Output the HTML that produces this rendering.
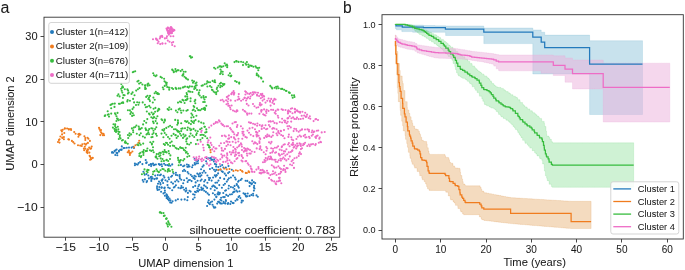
<!DOCTYPE html>
<html><head><meta charset="utf-8"><style>
html,body{margin:0;padding:0;background:#fff;}
svg{display:block;font-family:"Liberation Sans", sans-serif;will-change:transform;}
</style></head><body>
<svg width="685" height="270" viewBox="0 0 685 270">
<rect width="685" height="270" fill="#fff"/>
<g fill="rgb(35,122,188)"><circle cx="112.2" cy="152.0" r="1.05"/><circle cx="114.5" cy="151.1" r="1.05"/><circle cx="115.5" cy="150.4" r="1.05"/><circle cx="116.6" cy="149.5" r="1.05"/><circle cx="118.9" cy="150.7" r="1.05"/><circle cx="118.9" cy="151.6" r="1.05"/><circle cx="117.3" cy="153.1" r="1.05"/><circle cx="116.5" cy="152.9" r="1.05"/><circle cx="115.3" cy="155.0" r="1.05"/><circle cx="117.3" cy="155.3" r="1.05"/><circle cx="113.4" cy="152.8" r="1.05"/><circle cx="123.5" cy="148.1" r="1.05"/><circle cx="124.7" cy="148.0" r="1.05"/><circle cx="126.8" cy="147.8" r="1.05"/><circle cx="129.0" cy="147.6" r="1.05"/><circle cx="131.6" cy="147.6" r="1.05"/><circle cx="133.2" cy="146.8" r="1.05"/><circle cx="134.0" cy="147.9" r="1.05"/><circle cx="136.3" cy="164.2" r="1.05"/><circle cx="137.7" cy="164.6" r="1.05"/><circle cx="138.6" cy="163.1" r="1.05"/><circle cx="140.1" cy="162.1" r="1.05"/><circle cx="142.4" cy="164.1" r="1.05"/><circle cx="145.7" cy="160.1" r="1.05"/><circle cx="146.7" cy="162.4" r="1.05"/><circle cx="146.2" cy="163.1" r="1.05"/><circle cx="149.0" cy="165.0" r="1.05"/><circle cx="150.7" cy="164.1" r="1.05"/><circle cx="151.1" cy="166.1" r="1.05"/><circle cx="154.5" cy="164.8" r="1.05"/><circle cx="155.9" cy="164.5" r="1.05"/><circle cx="159.6" cy="164.6" r="1.05"/><circle cx="160.0" cy="164.7" r="1.05"/><circle cx="161.6" cy="164.2" r="1.05"/><circle cx="164.1" cy="163.8" r="1.05"/><circle cx="165.4" cy="165.0" r="1.05"/><circle cx="167.3" cy="165.1" r="1.05"/><circle cx="168.8" cy="165.6" r="1.05"/><circle cx="170.4" cy="165.8" r="1.05"/><circle cx="172.2" cy="164.4" r="1.05"/><circle cx="142.7" cy="180.0" r="1.05"/><circle cx="143.4" cy="181.7" r="1.05"/><circle cx="144.9" cy="179.4" r="1.05"/><circle cx="146.6" cy="182.1" r="1.05"/><circle cx="147.1" cy="181.0" r="1.05"/><circle cx="148.9" cy="178.4" r="1.05"/><circle cx="151.3" cy="180.9" r="1.05"/><circle cx="143.4" cy="171.7" r="1.05"/><circle cx="144.7" cy="174.8" r="1.05"/><circle cx="146.5" cy="174.1" r="1.05"/><circle cx="148.3" cy="175.5" r="1.05"/><circle cx="150.7" cy="177.1" r="1.05"/><circle cx="152.6" cy="178.4" r="1.05"/><circle cx="154.4" cy="179.1" r="1.05"/><circle cx="157.1" cy="178.4" r="1.05"/><circle cx="157.8" cy="175.1" r="1.05"/><circle cx="160.0" cy="175.3" r="1.05"/><circle cx="160.9" cy="174.6" r="1.05"/><circle cx="163.5" cy="175.7" r="1.05"/><circle cx="164.4" cy="177.4" r="1.05"/><circle cx="165.5" cy="180.2" r="1.05"/><circle cx="167.4" cy="181.4" r="1.05"/><circle cx="169.0" cy="179.2" r="1.05"/><circle cx="171.1" cy="176.8" r="1.05"/><circle cx="172.1" cy="175.8" r="1.05"/><circle cx="173.6" cy="173.5" r="1.05"/><circle cx="175.9" cy="172.8" r="1.05"/><circle cx="177.5" cy="175.2" r="1.05"/><circle cx="179.6" cy="176.7" r="1.05"/><circle cx="179.9" cy="178.4" r="1.05"/><circle cx="181.3" cy="179.7" r="1.05"/><circle cx="180.9" cy="164.9" r="1.05"/><circle cx="183.1" cy="166.2" r="1.05"/><circle cx="184.4" cy="165.6" r="1.05"/><circle cx="186.9" cy="164.5" r="1.05"/><circle cx="187.3" cy="166.8" r="1.05"/><circle cx="188.1" cy="166.8" r="1.05"/><circle cx="189.5" cy="166.5" r="1.05"/><circle cx="192.1" cy="167.3" r="1.05"/><circle cx="192.8" cy="165.3" r="1.05"/><circle cx="195.0" cy="164.6" r="1.05"/><circle cx="196.4" cy="163.4" r="1.05"/><circle cx="197.7" cy="161.1" r="1.05"/><circle cx="196.2" cy="160.8" r="1.05"/><circle cx="194.6" cy="159.0" r="1.05"/><circle cx="184.2" cy="169.7" r="1.05"/><circle cx="185.2" cy="171.0" r="1.05"/><circle cx="187.6" cy="172.0" r="1.05"/><circle cx="188.5" cy="173.5" r="1.05"/><circle cx="190.7" cy="174.8" r="1.05"/><circle cx="192.0" cy="176.2" r="1.05"/><circle cx="193.5" cy="178.1" r="1.05"/><circle cx="194.5" cy="175.7" r="1.05"/><circle cx="197.3" cy="173.6" r="1.05"/><circle cx="198.6" cy="174.6" r="1.05"/><circle cx="200.2" cy="176.4" r="1.05"/><circle cx="201.4" cy="175.2" r="1.05"/><circle cx="202.5" cy="172.7" r="1.05"/><circle cx="204.0" cy="170.9" r="1.05"/><circle cx="205.5" cy="172.7" r="1.05"/><circle cx="207.4" cy="175.5" r="1.05"/><circle cx="208.8" cy="177.7" r="1.05"/><circle cx="210.0" cy="178.1" r="1.05"/><circle cx="211.6" cy="180.6" r="1.05"/><circle cx="213.1" cy="177.5" r="1.05"/><circle cx="215.7" cy="176.6" r="1.05"/><circle cx="216.6" cy="175.3" r="1.05"/><circle cx="218.1" cy="173.4" r="1.05"/><circle cx="209.9" cy="169.0" r="1.05"/><circle cx="212.3" cy="168.1" r="1.05"/><circle cx="214.0" cy="169.7" r="1.05"/><circle cx="215.2" cy="171.3" r="1.05"/><circle cx="216.2" cy="169.9" r="1.05"/><circle cx="220.4" cy="169.6" r="1.05"/><circle cx="221.8" cy="171.3" r="1.05"/><circle cx="222.8" cy="171.9" r="1.05"/><circle cx="224.7" cy="173.6" r="1.05"/><circle cx="226.0" cy="175.4" r="1.05"/><circle cx="228.1" cy="173.1" r="1.05"/><circle cx="229.3" cy="172.0" r="1.05"/><circle cx="231.8" cy="169.8" r="1.05"/><circle cx="225.8" cy="167.6" r="1.05"/><circle cx="228.5" cy="166.1" r="1.05"/><circle cx="233.1" cy="175.6" r="1.05"/><circle cx="230.9" cy="177.5" r="1.05"/><circle cx="228.9" cy="178.2" r="1.05"/><circle cx="227.9" cy="179.7" r="1.05"/><circle cx="226.8" cy="181.6" r="1.05"/><circle cx="224.2" cy="178.9" r="1.05"/><circle cx="220.1" cy="177.9" r="1.05"/><circle cx="218.5" cy="180.6" r="1.05"/><circle cx="217.1" cy="182.6" r="1.05"/><circle cx="215.4" cy="182.7" r="1.05"/><circle cx="200.6" cy="180.7" r="1.05"/><circle cx="201.6" cy="179.5" r="1.05"/><circle cx="204.2" cy="181.5" r="1.05"/><circle cx="205.2" cy="180.1" r="1.05"/><circle cx="207.4" cy="182.8" r="1.05"/><circle cx="197.6" cy="180.7" r="1.05"/><circle cx="195.7" cy="182.4" r="1.05"/><circle cx="194.8" cy="179.0" r="1.05"/><circle cx="186.8" cy="178.2" r="1.05"/><circle cx="184.1" cy="180.3" r="1.05"/><circle cx="183.2" cy="183.3" r="1.05"/><circle cx="187.6" cy="182.0" r="1.05"/><circle cx="189.9" cy="180.0" r="1.05"/><circle cx="191.6" cy="181.1" r="1.05"/><circle cx="178.4" cy="181.5" r="1.05"/><circle cx="176.9" cy="180.0" r="1.05"/><circle cx="175.2" cy="181.5" r="1.05"/><circle cx="173.0" cy="183.6" r="1.05"/><circle cx="158.0" cy="183.7" r="1.05"/><circle cx="159.0" cy="181.6" r="1.05"/><circle cx="160.3" cy="183.0" r="1.05"/><circle cx="162.6" cy="179.3" r="1.05"/><circle cx="163.1" cy="183.0" r="1.05"/><circle cx="208.8" cy="158.2" r="1.05"/><circle cx="210.3" cy="158.3" r="1.05"/><circle cx="212.3" cy="159.7" r="1.05"/><circle cx="213.9" cy="161.4" r="1.05"/><circle cx="214.9" cy="163.9" r="1.05"/><circle cx="216.2" cy="164.6" r="1.05"/><circle cx="218.3" cy="167.0" r="1.05"/><circle cx="220.4" cy="166.2" r="1.05"/><circle cx="222.2" cy="165.1" r="1.05"/><circle cx="206.1" cy="161.3" r="1.05"/><circle cx="206.7" cy="163.5" r="1.05"/><circle cx="203.6" cy="165.4" r="1.05"/><circle cx="202.5" cy="166.7" r="1.05"/><circle cx="201.1" cy="169.2" r="1.05"/><circle cx="235.7" cy="179.4" r="1.05"/><circle cx="238.1" cy="181.7" r="1.05"/><circle cx="238.8" cy="180.8" r="1.05"/><circle cx="240.7" cy="180.0" r="1.05"/><circle cx="241.7" cy="178.8" r="1.05"/><circle cx="245.6" cy="180.8" r="1.05"/><circle cx="247.3" cy="180.9" r="1.05"/><circle cx="249.4" cy="182.4" r="1.05"/><circle cx="250.2" cy="183.1" r="1.05"/><circle cx="252.0" cy="183.2" r="1.05"/><circle cx="253.8" cy="182.1" r="1.05"/><circle cx="255.2" cy="183.1" r="1.05"/><circle cx="157.1" cy="186.2" r="1.05"/><circle cx="157.0" cy="188.0" r="1.05"/><circle cx="157.6" cy="189.5" r="1.05"/><circle cx="159.3" cy="187.0" r="1.05"/><circle cx="160.5" cy="184.5" r="1.05"/><circle cx="161.7" cy="187.4" r="1.05"/><circle cx="164.3" cy="188.3" r="1.05"/><circle cx="164.9" cy="190.6" r="1.05"/><circle cx="164.9" cy="192.5" r="1.05"/><circle cx="166.4" cy="194.2" r="1.05"/><circle cx="166.7" cy="196.2" r="1.05"/><circle cx="167.2" cy="198.0" r="1.05"/><circle cx="168.0" cy="199.3" r="1.05"/><circle cx="169.0" cy="200.4" r="1.05"/><circle cx="170.2" cy="202.4" r="1.05"/><circle cx="171.6" cy="202.8" r="1.05"/><circle cx="172.6" cy="201.2" r="1.05"/><circle cx="170.5" cy="200.2" r="1.05"/><circle cx="169.5" cy="198.5" r="1.05"/><circle cx="168.2" cy="197.0" r="1.05"/><circle cx="166.6" cy="198.1" r="1.05"/><circle cx="164.9" cy="195.7" r="1.05"/><circle cx="163.5" cy="193.4" r="1.05"/><circle cx="161.1" cy="191.8" r="1.05"/><circle cx="159.3" cy="189.5" r="1.05"/><circle cx="167.5" cy="185.1" r="1.05"/><circle cx="168.2" cy="187.5" r="1.05"/><circle cx="169.8" cy="188.3" r="1.05"/><circle cx="172.2" cy="190.3" r="1.05"/><circle cx="173.8" cy="187.5" r="1.05"/><circle cx="174.8" cy="186.7" r="1.05"/><circle cx="175.9" cy="185.2" r="1.05"/><circle cx="178.4" cy="187.8" r="1.05"/><circle cx="180.4" cy="188.3" r="1.05"/><circle cx="181.4" cy="186.0" r="1.05"/><circle cx="183.0" cy="187.5" r="1.05"/><circle cx="184.2" cy="189.8" r="1.05"/><circle cx="185.7" cy="191.4" r="1.05"/><circle cx="187.9" cy="192.9" r="1.05"/><circle cx="189.5" cy="190.7" r="1.05"/><circle cx="190.6" cy="191.6" r="1.05"/><circle cx="193.1" cy="194.3" r="1.05"/><circle cx="186.0" cy="188.3" r="1.05"/><circle cx="186.4" cy="190.3" r="1.05"/><circle cx="175.7" cy="200.4" r="1.05"/><circle cx="177.9" cy="199.2" r="1.05"/><circle cx="181.4" cy="199.6" r="1.05"/><circle cx="184.7" cy="199.4" r="1.05"/><circle cx="187.3" cy="200.2" r="1.05"/><circle cx="193.0" cy="199.2" r="1.05"/><circle cx="194.6" cy="197.5" r="1.05"/><circle cx="194.6" cy="194.8" r="1.05"/><circle cx="195.9" cy="192.2" r="1.05"/><circle cx="197.2" cy="190.8" r="1.05"/><circle cx="197.7" cy="188.5" r="1.05"/><circle cx="198.4" cy="186.3" r="1.05"/><circle cx="199.2" cy="184.8" r="1.05"/><circle cx="201.3" cy="187.6" r="1.05"/><circle cx="201.9" cy="189.4" r="1.05"/><circle cx="204.2" cy="190.8" r="1.05"/><circle cx="205.9" cy="191.9" r="1.05"/><circle cx="207.6" cy="193.4" r="1.05"/><circle cx="209.0" cy="194.8" r="1.05"/><circle cx="210.7" cy="188.7" r="1.05"/><circle cx="212.2" cy="186.6" r="1.05"/><circle cx="213.3" cy="185.6" r="1.05"/><circle cx="214.4" cy="186.2" r="1.05"/><circle cx="216.9" cy="188.2" r="1.05"/><circle cx="214.7" cy="190.2" r="1.05"/><circle cx="204.1" cy="185.4" r="1.05"/><circle cx="205.7" cy="186.5" r="1.05"/><circle cx="207.1" cy="187.9" r="1.05"/><circle cx="198.1" cy="191.4" r="1.05"/><circle cx="199.3" cy="190.0" r="1.05"/><circle cx="201.3" cy="189.8" r="1.05"/><circle cx="195.2" cy="185.9" r="1.05"/><circle cx="193.1" cy="187.1" r="1.05"/><circle cx="212.9" cy="193.2" r="1.05"/><circle cx="214.9" cy="194.7" r="1.05"/><circle cx="216.4" cy="196.6" r="1.05"/><circle cx="218.4" cy="194.4" r="1.05"/><circle cx="219.8" cy="192.9" r="1.05"/><circle cx="218.2" cy="192.2" r="1.05"/><circle cx="216.3" cy="197.1" r="1.05"/><circle cx="214.4" cy="199.6" r="1.05"/><circle cx="212.1" cy="201.5" r="1.05"/><circle cx="210.6" cy="202.4" r="1.05"/><circle cx="209.0" cy="203.3" r="1.05"/><circle cx="208.0" cy="202.3" r="1.05"/><circle cx="212.5" cy="204.8" r="1.05"/><circle cx="213.5" cy="206.6" r="1.05"/><circle cx="214.1" cy="207.8" r="1.05"/><circle cx="215.3" cy="207.4" r="1.05"/><circle cx="217.2" cy="203.6" r="1.05"/><circle cx="218.8" cy="201.8" r="1.05"/><circle cx="220.4" cy="203.4" r="1.05"/><circle cx="221.9" cy="203.6" r="1.05"/><circle cx="223.8" cy="203.0" r="1.05"/><circle cx="225.9" cy="201.0" r="1.05"/><circle cx="227.8" cy="203.9" r="1.05"/><circle cx="228.2" cy="203.0" r="1.05"/><circle cx="230.3" cy="204.0" r="1.05"/><circle cx="232.6" cy="202.9" r="1.05"/><circle cx="233.6" cy="203.1" r="1.05"/><circle cx="235.5" cy="200.8" r="1.05"/><circle cx="237.5" cy="199.7" r="1.05"/><circle cx="238.5" cy="197.1" r="1.05"/><circle cx="239.4" cy="196.0" r="1.05"/><circle cx="221.1" cy="197.8" r="1.05"/><circle cx="223.2" cy="197.1" r="1.05"/><circle cx="224.7" cy="197.1" r="1.05"/><circle cx="226.3" cy="194.9" r="1.05"/><circle cx="228.1" cy="195.9" r="1.05"/><circle cx="230.0" cy="194.5" r="1.05"/><circle cx="231.9" cy="194.3" r="1.05"/><circle cx="233.1" cy="192.5" r="1.05"/><circle cx="233.8" cy="191.8" r="1.05"/><circle cx="236.4" cy="190.6" r="1.05"/><circle cx="237.4" cy="191.7" r="1.05"/><circle cx="239.5" cy="191.3" r="1.05"/><circle cx="223.3" cy="193.0" r="1.05"/><circle cx="225.1" cy="190.8" r="1.05"/><circle cx="226.0" cy="190.3" r="1.05"/><circle cx="228.5" cy="188.5" r="1.05"/><circle cx="228.9" cy="185.8" r="1.05"/><circle cx="230.9" cy="187.1" r="1.05"/><circle cx="233.0" cy="187.5" r="1.05"/><circle cx="234.4" cy="189.0" r="1.05"/><circle cx="234.6" cy="185.9" r="1.05"/><circle cx="236.9" cy="185.0" r="1.05"/><circle cx="238.2" cy="186.4" r="1.05"/><circle cx="238.8" cy="187.8" r="1.05"/><circle cx="221.9" cy="187.7" r="1.05"/><circle cx="219.3" cy="185.1" r="1.05"/><circle cx="223.6" cy="185.0" r="1.05"/><circle cx="220.3" cy="199.7" r="1.05"/><circle cx="221.4" cy="200.5" r="1.05"/><circle cx="240.4" cy="198.1" r="1.05"/><circle cx="241.8" cy="200.6" r="1.05"/><circle cx="242.9" cy="200.8" r="1.05"/><circle cx="243.5" cy="193.3" r="1.05"/><circle cx="244.7" cy="194.2" r="1.05"/><circle cx="245.8" cy="195.7" r="1.05"/><circle cx="247.4" cy="196.2" r="1.05"/><circle cx="249.6" cy="195.9" r="1.05"/><circle cx="251.4" cy="194.9" r="1.05"/><circle cx="253.1" cy="193.8" r="1.05"/><circle cx="253.9" cy="190.6" r="1.05"/><circle cx="254.5" cy="188.5" r="1.05"/><circle cx="253.9" cy="187.5" r="1.05"/><circle cx="251.6" cy="184.3" r="1.05"/><circle cx="254.1" cy="185.9" r="1.05"/><circle cx="256.5" cy="195.4" r="1.05"/><circle cx="257.8" cy="196.8" r="1.05"/><circle cx="246.2" cy="196.6" r="1.05"/><circle cx="247.7" cy="193.5" r="1.05"/><circle cx="206.9" cy="158.3" r="1.05"/><circle cx="217.5" cy="194.1" r="1.05"/><circle cx="164.7" cy="187.6" r="1.05"/><circle cx="234.6" cy="191.6" r="1.05"/><circle cx="236.9" cy="199.2" r="1.05"/><circle cx="194.7" cy="163.0" r="1.05"/><circle cx="193.7" cy="177.5" r="1.05"/><circle cx="188.5" cy="180.2" r="1.05"/><circle cx="151.7" cy="164.4" r="1.05"/><circle cx="121.8" cy="146.4" r="1.05"/><circle cx="158.8" cy="164.1" r="1.05"/><circle cx="225.4" cy="203.3" r="1.05"/><circle cx="156.2" cy="178.6" r="1.05"/><circle cx="245.4" cy="193.8" r="1.05"/><circle cx="249.6" cy="186.1" r="1.05"/><circle cx="215.3" cy="187.2" r="1.05"/><circle cx="195.0" cy="191.7" r="1.05"/><circle cx="234.9" cy="177.5" r="1.05"/><circle cx="218.1" cy="201.7" r="1.05"/><circle cx="225.0" cy="183.7" r="1.05"/><circle cx="252.1" cy="180.4" r="1.05"/><circle cx="151.7" cy="176.7" r="1.05"/><circle cx="253.2" cy="195.5" r="1.05"/><circle cx="120.2" cy="149.8" r="1.05"/><circle cx="181.4" cy="187.8" r="1.05"/><circle cx="198.0" cy="160.2" r="1.05"/><circle cx="182.9" cy="171.1" r="1.05"/><circle cx="207.1" cy="206.0" r="1.05"/><circle cx="153.8" cy="165.3" r="1.05"/><circle cx="162.0" cy="180.8" r="1.05"/><circle cx="195.8" cy="176.5" r="1.05"/><circle cx="112.0" cy="152.8" r="1.05"/><circle cx="134.9" cy="165.2" r="1.05"/><circle cx="157.7" cy="189.9" r="1.05"/><circle cx="202.3" cy="189.4" r="1.05"/><circle cx="200.0" cy="173.4" r="1.05"/><circle cx="211.3" cy="159.7" r="1.05"/><circle cx="225.2" cy="203.5" r="1.05"/><circle cx="161.5" cy="187.7" r="1.05"/><circle cx="225.8" cy="200.0" r="1.05"/><circle cx="218.4" cy="170.2" r="1.05"/><circle cx="179.7" cy="175.1" r="1.05"/><circle cx="208.7" cy="200.2" r="1.05"/><circle cx="153.0" cy="163.5" r="1.05"/><circle cx="121.6" cy="149.7" r="1.05"/><circle cx="187.8" cy="197.1" r="1.05"/><circle cx="236.7" cy="184.0" r="1.05"/><circle cx="223.4" cy="167.5" r="1.05"/><circle cx="219.4" cy="194.1" r="1.05"/><circle cx="219.7" cy="202.5" r="1.05"/><circle cx="188.6" cy="165.1" r="1.05"/><circle cx="214.8" cy="175.3" r="1.05"/><circle cx="175.9" cy="174.9" r="1.05"/><circle cx="209.8" cy="204.3" r="1.05"/><circle cx="203.1" cy="188.6" r="1.05"/><circle cx="223.6" cy="201.7" r="1.05"/><circle cx="198.8" cy="176.2" r="1.05"/><circle cx="151.3" cy="178.9" r="1.05"/><circle cx="134.9" cy="163.6" r="1.05"/><circle cx="198.0" cy="163.3" r="1.05"/><circle cx="216.1" cy="166.6" r="1.05"/><circle cx="211.3" cy="157.8" r="1.05"/><circle cx="162.0" cy="166.3" r="1.05"/><circle cx="155.2" cy="175.6" r="1.05"/><circle cx="168.5" cy="177.5" r="1.05"/><circle cx="167.2" cy="195.4" r="1.05"/><circle cx="171.3" cy="182.2" r="1.05"/><circle cx="121.3" cy="149.6" r="1.05"/><circle cx="216.5" cy="175.3" r="1.05"/><circle cx="241.5" cy="202.4" r="1.05"/><circle cx="161.6" cy="180.4" r="1.05"/><circle cx="231.0" cy="201.6" r="1.05"/><circle cx="209.1" cy="179.9" r="1.05"/><circle cx="214.2" cy="159.4" r="1.05"/></g>
<g fill="rgb(240,124,30)"><circle cx="58.0" cy="142.0" r="1.05"/><circle cx="58.9" cy="140.1" r="1.05"/><circle cx="59.6" cy="139.3" r="1.05"/><circle cx="59.5" cy="142.6" r="1.05"/><circle cx="60.4" cy="136.5" r="1.05"/><circle cx="62.1" cy="134.4" r="1.05"/><circle cx="61.9" cy="131.4" r="1.05"/><circle cx="62.8" cy="129.7" r="1.05"/><circle cx="64.7" cy="128.8" r="1.05"/><circle cx="67.1" cy="128.5" r="1.05"/><circle cx="68.9" cy="129.6" r="1.05"/><circle cx="70.9" cy="129.1" r="1.05"/><circle cx="71.1" cy="130.0" r="1.05"/><circle cx="62.3" cy="137.6" r="1.05"/><circle cx="63.9" cy="139.3" r="1.05"/><circle cx="63.9" cy="137.1" r="1.05"/><circle cx="68.3" cy="139.2" r="1.05"/><circle cx="69.0" cy="139.6" r="1.05"/><circle cx="71.9" cy="140.9" r="1.05"/><circle cx="73.2" cy="142.1" r="1.05"/><circle cx="74.5" cy="143.5" r="1.05"/><circle cx="74.2" cy="132.0" r="1.05"/><circle cx="75.6" cy="133.8" r="1.05"/><circle cx="78.3" cy="134.3" r="1.05"/><circle cx="79.1" cy="135.0" r="1.05"/><circle cx="80.4" cy="134.5" r="1.05"/><circle cx="78.4" cy="136.7" r="1.05"/><circle cx="84.4" cy="136.3" r="1.05"/><circle cx="85.3" cy="138.1" r="1.05"/><circle cx="87.5" cy="137.8" r="1.05"/><circle cx="88.4" cy="138.7" r="1.05"/><circle cx="89.9" cy="140.9" r="1.05"/><circle cx="87.9" cy="142.9" r="1.05"/><circle cx="86.4" cy="143.8" r="1.05"/><circle cx="84.4" cy="143.7" r="1.05"/><circle cx="78.0" cy="145.2" r="1.05"/><circle cx="80.2" cy="145.6" r="1.05"/><circle cx="81.8" cy="146.0" r="1.05"/><circle cx="83.9" cy="148.6" r="1.05"/><circle cx="85.4" cy="148.8" r="1.05"/><circle cx="89.2" cy="147.5" r="1.05"/><circle cx="91.1" cy="148.4" r="1.05"/><circle cx="90.2" cy="148.8" r="1.05"/><circle cx="87.8" cy="149.9" r="1.05"/><circle cx="86.6" cy="152.1" r="1.05"/><circle cx="87.5" cy="153.1" r="1.05"/><circle cx="89.6" cy="155.7" r="1.05"/><circle cx="90.0" cy="156.5" r="1.05"/><circle cx="90.8" cy="157.9" r="1.05"/><circle cx="91.2" cy="159.3" r="1.05"/><circle cx="92.6" cy="157.7" r="1.05"/><circle cx="92.6" cy="158.0" r="1.05"/><circle cx="90.1" cy="159.8" r="1.05"/><circle cx="99.5" cy="129.0" r="1.05"/><circle cx="100.2" cy="130.7" r="1.05"/><circle cx="101.1" cy="132.4" r="1.05"/><circle cx="102.0" cy="133.6" r="1.05"/><circle cx="102.9" cy="135.3" r="1.05"/><circle cx="104.1" cy="135.2" r="1.05"/><circle cx="101.0" cy="130.1" r="1.05"/><circle cx="127.7" cy="152.2" r="1.05"/><circle cx="129.5" cy="153.1" r="1.05"/><circle cx="129.9" cy="155.0" r="1.05"/><circle cx="128.8" cy="151.6" r="1.05"/><circle cx="129.9" cy="153.8" r="1.05"/><circle cx="130.9" cy="152.8" r="1.05"/><circle cx="132.4" cy="151.5" r="1.05"/><circle cx="133.9" cy="147.2" r="1.05"/><circle cx="135.4" cy="145.2" r="1.05"/><circle cx="137.5" cy="144.8" r="1.05"/><circle cx="138.4" cy="142.7" r="1.05"/><circle cx="139.2" cy="140.7" r="1.05"/><circle cx="210.4" cy="150.0" r="1.05"/><circle cx="210.6" cy="152.2" r="1.05"/><circle cx="218.3" cy="169.8" r="1.05"/><circle cx="220.6" cy="169.5" r="1.05"/><circle cx="224.1" cy="168.6" r="1.05"/><circle cx="226.7" cy="169.4" r="1.05"/><circle cx="229.5" cy="169.0" r="1.05"/><circle cx="233.4" cy="170.9" r="1.05"/><circle cx="235.9" cy="170.3" r="1.05"/><circle cx="237.8" cy="170.7" r="1.05"/><circle cx="240.4" cy="170.0" r="1.05"/><circle cx="242.0" cy="171.0" r="1.05"/><circle cx="242.6" cy="171.7" r="1.05"/><circle cx="245.8" cy="172.9" r="1.05"/><circle cx="248.6" cy="171.4" r="1.05"/><circle cx="249.2" cy="172.2" r="1.05"/><circle cx="246.9" cy="173.0" r="1.05"/><circle cx="103.5" cy="133.9" r="1.05"/><circle cx="87.5" cy="151.7" r="1.05"/><circle cx="87.9" cy="149.3" r="1.05"/><circle cx="84.2" cy="150.3" r="1.05"/><circle cx="128.8" cy="150.6" r="1.05"/><circle cx="64.3" cy="133.0" r="1.05"/><circle cx="89.4" cy="152.6" r="1.05"/><circle cx="79.1" cy="133.8" r="1.05"/><circle cx="61.3" cy="130.2" r="1.05"/><circle cx="91.7" cy="146.6" r="1.05"/><circle cx="99.0" cy="127.7" r="1.05"/><circle cx="100.3" cy="135.1" r="1.05"/><circle cx="86.9" cy="150.5" r="1.05"/><circle cx="85.7" cy="144.8" r="1.05"/><circle cx="82.3" cy="144.2" r="1.05"/><circle cx="62.5" cy="138.0" r="1.05"/><circle cx="84.8" cy="146.8" r="1.05"/><circle cx="85.3" cy="140.0" r="1.05"/><circle cx="68.9" cy="129.0" r="1.05"/><circle cx="64.9" cy="128.3" r="1.05"/></g>
<g fill="rgb(55,188,62)"><circle cx="190.4" cy="56.3" r="1.05"/><circle cx="191.0" cy="57.7" r="1.05"/><circle cx="192.1" cy="57.3" r="1.05"/><circle cx="132.8" cy="72.3" r="1.05"/><circle cx="133.7" cy="71.8" r="1.05"/><circle cx="135.2" cy="71.3" r="1.05"/><circle cx="153.2" cy="73.3" r="1.05"/><circle cx="154.0" cy="75.3" r="1.05"/><circle cx="155.5" cy="76.2" r="1.05"/><circle cx="156.5" cy="75.4" r="1.05"/><circle cx="160.6" cy="76.9" r="1.05"/><circle cx="161.9" cy="77.7" r="1.05"/><circle cx="164.1" cy="78.8" r="1.05"/><circle cx="164.5" cy="81.2" r="1.05"/><circle cx="165.6" cy="82.3" r="1.05"/><circle cx="166.3" cy="83.8" r="1.05"/><circle cx="166.5" cy="85.0" r="1.05"/><circle cx="164.7" cy="85.9" r="1.05"/><circle cx="162.8" cy="87.5" r="1.05"/><circle cx="172.2" cy="69.5" r="1.05"/><circle cx="172.7" cy="70.2" r="1.05"/><circle cx="173.8" cy="71.2" r="1.05"/><circle cx="175.4" cy="69.1" r="1.05"/><circle cx="173.8" cy="72.2" r="1.05"/><circle cx="177.5" cy="70.3" r="1.05"/><circle cx="178.5" cy="70.3" r="1.05"/><circle cx="180.7" cy="71.1" r="1.05"/><circle cx="183.7" cy="71.8" r="1.05"/><circle cx="185.6" cy="71.8" r="1.05"/><circle cx="182.4" cy="75.6" r="1.05"/><circle cx="184.4" cy="76.7" r="1.05"/><circle cx="185.8" cy="77.9" r="1.05"/><circle cx="186.5" cy="78.8" r="1.05"/><circle cx="188.0" cy="79.6" r="1.05"/><circle cx="137.4" cy="81.5" r="1.05"/><circle cx="138.5" cy="80.8" r="1.05"/><circle cx="139.1" cy="83.6" r="1.05"/><circle cx="140.8" cy="82.8" r="1.05"/><circle cx="142.4" cy="84.5" r="1.05"/><circle cx="144.9" cy="85.6" r="1.05"/><circle cx="145.4" cy="85.4" r="1.05"/><circle cx="147.5" cy="84.3" r="1.05"/><circle cx="149.6" cy="85.2" r="1.05"/><circle cx="145.2" cy="87.5" r="1.05"/><circle cx="145.1" cy="89.0" r="1.05"/><circle cx="131.5" cy="93.9" r="1.05"/><circle cx="132.6" cy="92.4" r="1.05"/><circle cx="136.2" cy="90.6" r="1.05"/><circle cx="137.9" cy="89.2" r="1.05"/><circle cx="139.5" cy="88.1" r="1.05"/><circle cx="155.8" cy="91.8" r="1.05"/><circle cx="157.7" cy="93.1" r="1.05"/><circle cx="157.7" cy="94.0" r="1.05"/><circle cx="156.6" cy="93.2" r="1.05"/><circle cx="158.9" cy="94.1" r="1.05"/><circle cx="163.5" cy="89.3" r="1.05"/><circle cx="169.2" cy="89.7" r="1.05"/><circle cx="169.5" cy="87.8" r="1.05"/><circle cx="172.0" cy="88.1" r="1.05"/><circle cx="173.1" cy="89.0" r="1.05"/><circle cx="176.3" cy="88.9" r="1.05"/><circle cx="178.7" cy="88.4" r="1.05"/><circle cx="180.4" cy="88.4" r="1.05"/><circle cx="182.8" cy="87.5" r="1.05"/><circle cx="185.0" cy="86.6" r="1.05"/><circle cx="187.4" cy="86.9" r="1.05"/><circle cx="189.8" cy="86.4" r="1.05"/><circle cx="192.2" cy="80.6" r="1.05"/><circle cx="194.0" cy="81.4" r="1.05"/><circle cx="196.5" cy="82.6" r="1.05"/><circle cx="195.5" cy="83.5" r="1.05"/><circle cx="195.7" cy="85.7" r="1.05"/><circle cx="194.5" cy="86.9" r="1.05"/><circle cx="195.5" cy="88.1" r="1.05"/><circle cx="197.0" cy="90.0" r="1.05"/><circle cx="198.9" cy="92.5" r="1.05"/><circle cx="198.6" cy="94.0" r="1.05"/><circle cx="199.7" cy="95.5" r="1.05"/><circle cx="201.3" cy="97.4" r="1.05"/><circle cx="186.6" cy="93.1" r="1.05"/><circle cx="188.4" cy="91.3" r="1.05"/><circle cx="189.2" cy="91.5" r="1.05"/><circle cx="190.4" cy="91.7" r="1.05"/><circle cx="192.4" cy="92.0" r="1.05"/><circle cx="187.0" cy="94.5" r="1.05"/><circle cx="185.3" cy="96.4" r="1.05"/><circle cx="187.2" cy="96.6" r="1.05"/><circle cx="201.6" cy="85.7" r="1.05"/><circle cx="202.8" cy="85.4" r="1.05"/><circle cx="204.7" cy="84.2" r="1.05"/><circle cx="206.6" cy="83.6" r="1.05"/><circle cx="207.4" cy="86.5" r="1.05"/><circle cx="208.2" cy="82.2" r="1.05"/><circle cx="210.0" cy="82.3" r="1.05"/><circle cx="212.6" cy="80.9" r="1.05"/><circle cx="214.8" cy="80.3" r="1.05"/><circle cx="210.0" cy="86.1" r="1.05"/><circle cx="211.5" cy="87.3" r="1.05"/><circle cx="212.0" cy="89.7" r="1.05"/><circle cx="213.6" cy="91.6" r="1.05"/><circle cx="215.0" cy="92.5" r="1.05"/><circle cx="216.2" cy="94.1" r="1.05"/><circle cx="216.3" cy="92.2" r="1.05"/><circle cx="217.8" cy="91.0" r="1.05"/><circle cx="217.2" cy="87.5" r="1.05"/><circle cx="218.5" cy="85.7" r="1.05"/><circle cx="219.8" cy="83.8" r="1.05"/><circle cx="220.9" cy="82.9" r="1.05"/><circle cx="222.9" cy="83.9" r="1.05"/><circle cx="223.6" cy="85.0" r="1.05"/><circle cx="222.2" cy="86.3" r="1.05"/><circle cx="220.3" cy="87.3" r="1.05"/><circle cx="224.4" cy="84.1" r="1.05"/><circle cx="214.1" cy="67.7" r="1.05"/><circle cx="215.4" cy="68.8" r="1.05"/><circle cx="217.8" cy="67.6" r="1.05"/><circle cx="219.4" cy="66.4" r="1.05"/><circle cx="220.6" cy="66.4" r="1.05"/><circle cx="221.7" cy="66.9" r="1.05"/><circle cx="223.3" cy="66.2" r="1.05"/><circle cx="225.7" cy="65.4" r="1.05"/><circle cx="226.9" cy="64.6" r="1.05"/><circle cx="227.3" cy="65.7" r="1.05"/><circle cx="220.5" cy="69.5" r="1.05"/><circle cx="221.2" cy="71.3" r="1.05"/><circle cx="222.7" cy="71.8" r="1.05"/><circle cx="220.9" cy="73.0" r="1.05"/><circle cx="228.6" cy="75.2" r="1.05"/><circle cx="230.5" cy="76.3" r="1.05"/><circle cx="146.2" cy="96.9" r="1.05"/><circle cx="147.5" cy="95.8" r="1.05"/><circle cx="149.0" cy="97.5" r="1.05"/><circle cx="234.5" cy="62.1" r="1.05"/><circle cx="236.2" cy="61.1" r="1.05"/><circle cx="236.7" cy="61.4" r="1.05"/><circle cx="238.6" cy="61.9" r="1.05"/><circle cx="241.1" cy="61.7" r="1.05"/><circle cx="243.2" cy="62.3" r="1.05"/><circle cx="245.5" cy="63.5" r="1.05"/><circle cx="246.2" cy="64.7" r="1.05"/><circle cx="248.3" cy="64.6" r="1.05"/><circle cx="250.1" cy="65.6" r="1.05"/><circle cx="251.7" cy="65.9" r="1.05"/><circle cx="253.4" cy="66.7" r="1.05"/><circle cx="255.5" cy="66.3" r="1.05"/><circle cx="256.3" cy="67.6" r="1.05"/><circle cx="257.8" cy="68.1" r="1.05"/><circle cx="259.2" cy="67.8" r="1.05"/><circle cx="258.3" cy="70.2" r="1.05"/><circle cx="256.8" cy="73.6" r="1.05"/><circle cx="258.1" cy="75.2" r="1.05"/><circle cx="258.7" cy="76.4" r="1.05"/><circle cx="260.9" cy="77.5" r="1.05"/><circle cx="261.4" cy="78.4" r="1.05"/><circle cx="256.7" cy="75.1" r="1.05"/><circle cx="230.8" cy="76.2" r="1.05"/><circle cx="231.3" cy="75.6" r="1.05"/><circle cx="235.1" cy="81.0" r="1.05"/><circle cx="236.7" cy="81.9" r="1.05"/><circle cx="239.2" cy="82.6" r="1.05"/><circle cx="239.2" cy="83.6" r="1.05"/><circle cx="271.5" cy="87.3" r="1.05"/><circle cx="272.2" cy="88.4" r="1.05"/><circle cx="274.6" cy="87.8" r="1.05"/><circle cx="276.1" cy="86.8" r="1.05"/><circle cx="277.7" cy="86.6" r="1.05"/><circle cx="278.7" cy="88.3" r="1.05"/><circle cx="281.1" cy="88.9" r="1.05"/><circle cx="282.3" cy="88.9" r="1.05"/><circle cx="284.1" cy="89.7" r="1.05"/><circle cx="285.9" cy="90.8" r="1.05"/><circle cx="286.5" cy="91.0" r="1.05"/><circle cx="288.9" cy="92.4" r="1.05"/><circle cx="289.8" cy="92.9" r="1.05"/><circle cx="291.9" cy="95.4" r="1.05"/><circle cx="294.1" cy="95.4" r="1.05"/><circle cx="294.5" cy="97.0" r="1.05"/><circle cx="121.3" cy="83.9" r="1.05"/><circle cx="122.5" cy="86.3" r="1.05"/><circle cx="122.1" cy="87.5" r="1.05"/><circle cx="123.0" cy="87.4" r="1.05"/><circle cx="124.8" cy="89.2" r="1.05"/><circle cx="127.4" cy="89.4" r="1.05"/><circle cx="128.1" cy="90.6" r="1.05"/><circle cx="121.1" cy="88.8" r="1.05"/><circle cx="121.7" cy="90.7" r="1.05"/><circle cx="117.5" cy="95.7" r="1.05"/><circle cx="118.4" cy="94.3" r="1.05"/><circle cx="119.6" cy="96.4" r="1.05"/><circle cx="123.4" cy="95.1" r="1.05"/><circle cx="124.6" cy="95.3" r="1.05"/><circle cx="127.9" cy="93.6" r="1.05"/><circle cx="128.7" cy="92.6" r="1.05"/><circle cx="110.4" cy="105.0" r="1.05"/><circle cx="111.4" cy="104.4" r="1.05"/><circle cx="112.8" cy="103.7" r="1.05"/><circle cx="114.8" cy="103.6" r="1.05"/><circle cx="118.9" cy="103.8" r="1.05"/><circle cx="119.9" cy="103.7" r="1.05"/><circle cx="121.7" cy="102.9" r="1.05"/><circle cx="122.9" cy="102.2" r="1.05"/><circle cx="127.3" cy="101.4" r="1.05"/><circle cx="127.7" cy="100.1" r="1.05"/><circle cx="129.9" cy="100.8" r="1.05"/><circle cx="127.9" cy="110.2" r="1.05"/><circle cx="129.9" cy="110.4" r="1.05"/><circle cx="104.7" cy="116.0" r="1.05"/><circle cx="105.2" cy="115.4" r="1.05"/><circle cx="107.7" cy="114.7" r="1.05"/><circle cx="108.7" cy="114.3" r="1.05"/><circle cx="111.2" cy="113.6" r="1.05"/><circle cx="109.0" cy="116.6" r="1.05"/><circle cx="115.0" cy="113.3" r="1.05"/><circle cx="115.6" cy="114.5" r="1.05"/><circle cx="116.5" cy="116.3" r="1.05"/><circle cx="117.7" cy="118.9" r="1.05"/><circle cx="118.4" cy="120.2" r="1.05"/><circle cx="116.4" cy="121.0" r="1.05"/><circle cx="133.1" cy="98.9" r="1.05"/><circle cx="134.1" cy="102.4" r="1.05"/><circle cx="138.4" cy="104.8" r="1.05"/><circle cx="142.7" cy="102.4" r="1.05"/><circle cx="144.9" cy="104.8" r="1.05"/><circle cx="148.3" cy="99.0" r="1.05"/><circle cx="149.9" cy="101.1" r="1.05"/><circle cx="152.8" cy="102.5" r="1.05"/><circle cx="154.7" cy="99.7" r="1.05"/><circle cx="153.4" cy="97.6" r="1.05"/><circle cx="178.0" cy="102.6" r="1.05"/><circle cx="180.0" cy="101.6" r="1.05"/><circle cx="181.2" cy="102.2" r="1.05"/><circle cx="183.6" cy="100.6" r="1.05"/><circle cx="186.0" cy="100.2" r="1.05"/><circle cx="187.2" cy="99.4" r="1.05"/><circle cx="190.6" cy="98.4" r="1.05"/><circle cx="194.6" cy="101.3" r="1.05"/><circle cx="195.3" cy="103.2" r="1.05"/><circle cx="195.3" cy="99.9" r="1.05"/><circle cx="204.5" cy="99.5" r="1.05"/><circle cx="204.8" cy="102.0" r="1.05"/><circle cx="203.7" cy="97.8" r="1.05"/><circle cx="132.5" cy="109.1" r="1.05"/><circle cx="133.6" cy="107.4" r="1.05"/><circle cx="145.8" cy="107.2" r="1.05"/><circle cx="147.1" cy="106.7" r="1.05"/><circle cx="149.2" cy="105.9" r="1.05"/><circle cx="150.5" cy="107.5" r="1.05"/><circle cx="153.6" cy="108.8" r="1.05"/><circle cx="155.4" cy="107.9" r="1.05"/><circle cx="158.7" cy="108.7" r="1.05"/><circle cx="159.3" cy="109.4" r="1.05"/><circle cx="167.6" cy="109.1" r="1.05"/><circle cx="168.7" cy="109.9" r="1.05"/><circle cx="171.2" cy="109.2" r="1.05"/><circle cx="175.9" cy="110.6" r="1.05"/><circle cx="178.7" cy="109.4" r="1.05"/><circle cx="179.8" cy="108.5" r="1.05"/><circle cx="180.8" cy="110.5" r="1.05"/><circle cx="183.3" cy="110.5" r="1.05"/><circle cx="186.4" cy="110.7" r="1.05"/><circle cx="187.7" cy="110.1" r="1.05"/><circle cx="193.6" cy="106.1" r="1.05"/><circle cx="194.3" cy="107.0" r="1.05"/><circle cx="193.6" cy="109.5" r="1.05"/><circle cx="195.2" cy="111.0" r="1.05"/><circle cx="198.1" cy="110.0" r="1.05"/><circle cx="199.0" cy="110.3" r="1.05"/><circle cx="201.8" cy="109.0" r="1.05"/><circle cx="203.4" cy="108.6" r="1.05"/><circle cx="204.5" cy="107.8" r="1.05"/><circle cx="205.0" cy="109.9" r="1.05"/><circle cx="206.3" cy="105.7" r="1.05"/><circle cx="132.1" cy="115.9" r="1.05"/><circle cx="133.8" cy="115.3" r="1.05"/><circle cx="132.8" cy="113.3" r="1.05"/><circle cx="146.8" cy="111.5" r="1.05"/><circle cx="149.0" cy="113.6" r="1.05"/><circle cx="149.7" cy="114.5" r="1.05"/><circle cx="151.6" cy="112.5" r="1.05"/><circle cx="153.0" cy="114.4" r="1.05"/><circle cx="153.8" cy="113.5" r="1.05"/><circle cx="155.1" cy="111.7" r="1.05"/><circle cx="151.3" cy="117.3" r="1.05"/><circle cx="153.7" cy="117.4" r="1.05"/><circle cx="156.2" cy="118.5" r="1.05"/><circle cx="157.4" cy="116.2" r="1.05"/><circle cx="191.4" cy="113.6" r="1.05"/><circle cx="192.4" cy="115.1" r="1.05"/><circle cx="193.6" cy="117.1" r="1.05"/><circle cx="196.4" cy="115.8" r="1.05"/><circle cx="191.3" cy="117.6" r="1.05"/><circle cx="144.3" cy="121.0" r="1.05"/><circle cx="146.2" cy="122.7" r="1.05"/><circle cx="143.1" cy="124.4" r="1.05"/><circle cx="147.3" cy="119.1" r="1.05"/><circle cx="153.0" cy="121.6" r="1.05"/><circle cx="153.7" cy="123.1" r="1.05"/><circle cx="155.6" cy="121.1" r="1.05"/><circle cx="157.1" cy="123.4" r="1.05"/><circle cx="162.3" cy="120.2" r="1.05"/><circle cx="163.9" cy="122.4" r="1.05"/><circle cx="164.9" cy="120.8" r="1.05"/><circle cx="164.8" cy="119.6" r="1.05"/><circle cx="175.2" cy="119.9" r="1.05"/><circle cx="178.0" cy="122.2" r="1.05"/><circle cx="178.0" cy="123.3" r="1.05"/><circle cx="177.3" cy="124.8" r="1.05"/><circle cx="186.5" cy="121.9" r="1.05"/><circle cx="187.5" cy="121.2" r="1.05"/><circle cx="188.9" cy="123.1" r="1.05"/><circle cx="190.9" cy="124.1" r="1.05"/><circle cx="192.5" cy="122.0" r="1.05"/><circle cx="194.2" cy="121.1" r="1.05"/><circle cx="195.6" cy="120.0" r="1.05"/><circle cx="198.7" cy="121.4" r="1.05"/><circle cx="201.2" cy="122.6" r="1.05"/><circle cx="203.6" cy="123.4" r="1.05"/><circle cx="131.9" cy="128.4" r="1.05"/><circle cx="133.8" cy="127.6" r="1.05"/><circle cx="135.2" cy="127.0" r="1.05"/><circle cx="136.4" cy="125.5" r="1.05"/><circle cx="138.7" cy="126.6" r="1.05"/><circle cx="140.4" cy="129.1" r="1.05"/><circle cx="141.8" cy="128.0" r="1.05"/><circle cx="145.5" cy="128.2" r="1.05"/><circle cx="145.9" cy="129.6" r="1.05"/><circle cx="148.2" cy="130.6" r="1.05"/><circle cx="149.2" cy="129.1" r="1.05"/><circle cx="151.3" cy="128.2" r="1.05"/><circle cx="152.6" cy="128.6" r="1.05"/><circle cx="153.5" cy="130.7" r="1.05"/><circle cx="155.1" cy="129.1" r="1.05"/><circle cx="156.3" cy="127.2" r="1.05"/><circle cx="162.4" cy="129.9" r="1.05"/><circle cx="164.3" cy="129.1" r="1.05"/><circle cx="166.3" cy="127.9" r="1.05"/><circle cx="168.5" cy="126.7" r="1.05"/><circle cx="170.1" cy="125.8" r="1.05"/><circle cx="172.0" cy="127.1" r="1.05"/><circle cx="174.0" cy="129.2" r="1.05"/><circle cx="175.7" cy="129.2" r="1.05"/><circle cx="177.0" cy="130.3" r="1.05"/><circle cx="178.5" cy="131.6" r="1.05"/><circle cx="179.2" cy="131.7" r="1.05"/><circle cx="181.3" cy="128.7" r="1.05"/><circle cx="182.6" cy="128.4" r="1.05"/><circle cx="185.0" cy="128.3" r="1.05"/><circle cx="187.3" cy="130.0" r="1.05"/><circle cx="190.6" cy="130.3" r="1.05"/><circle cx="191.4" cy="129.5" r="1.05"/><circle cx="193.6" cy="128.9" r="1.05"/><circle cx="195.5" cy="130.6" r="1.05"/><circle cx="197.8" cy="131.3" r="1.05"/><circle cx="200.1" cy="129.3" r="1.05"/><circle cx="201.6" cy="128.2" r="1.05"/><circle cx="204.5" cy="126.7" r="1.05"/><circle cx="204.8" cy="126.7" r="1.05"/><circle cx="206.3" cy="129.4" r="1.05"/><circle cx="206.5" cy="132.1" r="1.05"/><circle cx="205.2" cy="132.5" r="1.05"/><circle cx="129.5" cy="133.4" r="1.05"/><circle cx="131.1" cy="134.4" r="1.05"/><circle cx="133.2" cy="132.2" r="1.05"/><circle cx="136.8" cy="133.8" r="1.05"/><circle cx="139.5" cy="135.1" r="1.05"/><circle cx="140.8" cy="133.3" r="1.05"/><circle cx="142.9" cy="136.5" r="1.05"/><circle cx="144.9" cy="137.6" r="1.05"/><circle cx="146.5" cy="134.5" r="1.05"/><circle cx="148.3" cy="132.6" r="1.05"/><circle cx="149.1" cy="134.3" r="1.05"/><circle cx="151.4" cy="137.2" r="1.05"/><circle cx="152.4" cy="134.3" r="1.05"/><circle cx="153.6" cy="133.0" r="1.05"/><circle cx="156.0" cy="133.9" r="1.05"/><circle cx="156.8" cy="135.8" r="1.05"/><circle cx="161.5" cy="133.6" r="1.05"/><circle cx="163.4" cy="137.2" r="1.05"/><circle cx="164.7" cy="133.0" r="1.05"/><circle cx="166.3" cy="134.8" r="1.05"/><circle cx="168.0" cy="137.0" r="1.05"/><circle cx="169.6" cy="138.7" r="1.05"/><circle cx="171.5" cy="135.7" r="1.05"/><circle cx="173.6" cy="133.9" r="1.05"/><circle cx="175.6" cy="135.0" r="1.05"/><circle cx="176.6" cy="137.9" r="1.05"/><circle cx="178.0" cy="136.3" r="1.05"/><circle cx="180.1" cy="133.8" r="1.05"/><circle cx="181.2" cy="135.6" r="1.05"/><circle cx="183.0" cy="137.9" r="1.05"/><circle cx="184.5" cy="136.5" r="1.05"/><circle cx="185.6" cy="135.4" r="1.05"/><circle cx="187.2" cy="138.2" r="1.05"/><circle cx="189.5" cy="136.4" r="1.05"/><circle cx="190.6" cy="133.6" r="1.05"/><circle cx="192.5" cy="135.5" r="1.05"/><circle cx="194.2" cy="137.0" r="1.05"/><circle cx="196.2" cy="134.9" r="1.05"/><circle cx="196.8" cy="133.2" r="1.05"/><circle cx="200.5" cy="135.0" r="1.05"/><circle cx="202.4" cy="138.0" r="1.05"/><circle cx="203.7" cy="135.1" r="1.05"/><circle cx="205.3" cy="136.3" r="1.05"/><circle cx="207.2" cy="138.3" r="1.05"/><circle cx="200.4" cy="139.8" r="1.05"/><circle cx="197.5" cy="140.1" r="1.05"/><circle cx="292.7" cy="97.7" r="1.05"/><circle cx="113.5" cy="124.3" r="1.05"/><circle cx="115.1" cy="126.1" r="1.05"/><circle cx="116.0" cy="127.7" r="1.05"/><circle cx="116.0" cy="129.7" r="1.05"/><circle cx="116.5" cy="130.9" r="1.05"/><circle cx="118.3" cy="131.6" r="1.05"/><circle cx="118.4" cy="133.9" r="1.05"/><circle cx="119.9" cy="135.2" r="1.05"/><circle cx="119.7" cy="137.0" r="1.05"/><circle cx="120.5" cy="138.4" r="1.05"/><circle cx="122.0" cy="140.5" r="1.05"/><circle cx="122.9" cy="140.0" r="1.05"/><circle cx="124.9" cy="142.6" r="1.05"/><circle cx="126.0" cy="142.9" r="1.05"/><circle cx="127.8" cy="143.8" r="1.05"/><circle cx="114.9" cy="130.9" r="1.05"/><circle cx="116.0" cy="132.0" r="1.05"/><circle cx="127.9" cy="135.0" r="1.05"/><circle cx="129.5" cy="135.7" r="1.05"/><circle cx="139.6" cy="143.3" r="1.05"/><circle cx="140.7" cy="144.8" r="1.05"/><circle cx="143.2" cy="143.6" r="1.05"/><circle cx="150.3" cy="142.3" r="1.05"/><circle cx="151.9" cy="143.5" r="1.05"/><circle cx="151.9" cy="144.5" r="1.05"/><circle cx="153.0" cy="147.3" r="1.05"/><circle cx="163.8" cy="144.0" r="1.05"/><circle cx="164.9" cy="144.9" r="1.05"/><circle cx="167.0" cy="143.1" r="1.05"/><circle cx="168.0" cy="144.7" r="1.05"/><circle cx="170.1" cy="142.8" r="1.05"/><circle cx="171.7" cy="141.6" r="1.05"/><circle cx="172.8" cy="145.6" r="1.05"/><circle cx="174.2" cy="146.1" r="1.05"/><circle cx="175.6" cy="147.8" r="1.05"/><circle cx="176.8" cy="148.6" r="1.05"/><circle cx="178.5" cy="149.1" r="1.05"/><circle cx="180.2" cy="147.2" r="1.05"/><circle cx="181.7" cy="148.0" r="1.05"/><circle cx="183.9" cy="149.9" r="1.05"/><circle cx="185.2" cy="150.7" r="1.05"/><circle cx="186.7" cy="152.0" r="1.05"/><circle cx="187.9" cy="153.8" r="1.05"/><circle cx="189.3" cy="156.0" r="1.05"/><circle cx="187.3" cy="156.7" r="1.05"/><circle cx="184.3" cy="159.0" r="1.05"/><circle cx="186.3" cy="141.5" r="1.05"/><circle cx="187.2" cy="143.9" r="1.05"/><circle cx="189.2" cy="144.5" r="1.05"/><circle cx="190.9" cy="142.8" r="1.05"/><circle cx="195.9" cy="144.1" r="1.05"/><circle cx="139.4" cy="153.8" r="1.05"/><circle cx="140.4" cy="152.7" r="1.05"/><circle cx="142.4" cy="151.7" r="1.05"/><circle cx="143.4" cy="151.9" r="1.05"/><circle cx="143.8" cy="150.1" r="1.05"/><circle cx="146.2" cy="150.7" r="1.05"/><circle cx="147.4" cy="148.5" r="1.05"/><circle cx="149.9" cy="150.2" r="1.05"/><circle cx="151.3" cy="150.9" r="1.05"/><circle cx="152.9" cy="150.2" r="1.05"/><circle cx="153.7" cy="152.3" r="1.05"/><circle cx="156.7" cy="154.1" r="1.05"/><circle cx="158.5" cy="154.0" r="1.05"/><circle cx="159.5" cy="152.8" r="1.05"/><circle cx="160.8" cy="152.9" r="1.05"/><circle cx="162.7" cy="151.7" r="1.05"/><circle cx="163.4" cy="154.3" r="1.05"/><circle cx="165.6" cy="151.9" r="1.05"/><circle cx="166.6" cy="152.4" r="1.05"/><circle cx="168.6" cy="151.1" r="1.05"/><circle cx="169.1" cy="153.5" r="1.05"/><circle cx="170.4" cy="155.4" r="1.05"/><circle cx="139.3" cy="156.0" r="1.05"/><circle cx="140.9" cy="157.1" r="1.05"/><circle cx="143.4" cy="155.0" r="1.05"/><circle cx="156.2" cy="157.6" r="1.05"/><circle cx="157.5" cy="158.7" r="1.05"/><circle cx="159.2" cy="156.3" r="1.05"/><circle cx="160.7" cy="158.4" r="1.05"/><circle cx="162.5" cy="159.1" r="1.05"/><circle cx="163.9" cy="160.9" r="1.05"/><circle cx="166.7" cy="159.9" r="1.05"/><circle cx="168.2" cy="161.0" r="1.05"/><circle cx="170.0" cy="159.0" r="1.05"/><circle cx="178.0" cy="157.9" r="1.05"/><circle cx="178.3" cy="160.1" r="1.05"/><circle cx="179.4" cy="162.5" r="1.05"/><circle cx="180.8" cy="160.1" r="1.05"/><circle cx="183.2" cy="160.5" r="1.05"/><circle cx="178.7" cy="165.3" r="1.05"/><circle cx="144.5" cy="169.4" r="1.05"/><circle cx="146.7" cy="171.2" r="1.05"/><circle cx="144.2" cy="173.3" r="1.05"/><circle cx="147.9" cy="170.1" r="1.05"/><circle cx="148.6" cy="170.0" r="1.05"/><circle cx="153.2" cy="171.8" r="1.05"/><circle cx="154.6" cy="171.1" r="1.05"/><circle cx="156.5" cy="169.3" r="1.05"/><circle cx="157.3" cy="171.1" r="1.05"/><circle cx="158.9" cy="172.1" r="1.05"/><circle cx="160.5" cy="170.3" r="1.05"/><circle cx="162.4" cy="169.0" r="1.05"/><circle cx="163.7" cy="169.3" r="1.05"/><circle cx="165.3" cy="170.8" r="1.05"/><circle cx="167.6" cy="171.6" r="1.05"/><circle cx="168.0" cy="169.6" r="1.05"/><circle cx="169.9" cy="171.0" r="1.05"/><circle cx="172.4" cy="169.8" r="1.05"/><circle cx="207.7" cy="144.8" r="1.05"/><circle cx="209.2" cy="147.2" r="1.05"/><circle cx="209.6" cy="147.4" r="1.05"/><circle cx="159.8" cy="212.4" r="1.05"/><circle cx="161.5" cy="213.1" r="1.05"/><circle cx="163.5" cy="213.1" r="1.05"/><circle cx="163.8" cy="216.0" r="1.05"/><circle cx="164.7" cy="215.6" r="1.05"/><circle cx="166.6" cy="218.4" r="1.05"/><circle cx="166.3" cy="218.7" r="1.05"/><circle cx="168.2" cy="221.2" r="1.05"/><circle cx="168.6" cy="222.7" r="1.05"/><circle cx="169.7" cy="224.6" r="1.05"/><circle cx="169.4" cy="224.3" r="1.05"/><circle cx="171.4" cy="226.7" r="1.05"/><circle cx="166.6" cy="223.2" r="1.05"/><circle cx="167.5" cy="224.7" r="1.05"/><circle cx="167.9" cy="226.5" r="1.05"/><circle cx="205.1" cy="108.6" r="1.05"/><circle cx="177.7" cy="131.4" r="1.05"/><circle cx="205.9" cy="97.1" r="1.05"/><circle cx="131.1" cy="112.1" r="1.05"/><circle cx="169.1" cy="164.1" r="1.05"/><circle cx="122.9" cy="97.9" r="1.05"/><circle cx="197.0" cy="108.2" r="1.05"/><circle cx="176.2" cy="71.5" r="1.05"/><circle cx="185.1" cy="121.1" r="1.05"/><circle cx="107.7" cy="111.2" r="1.05"/><circle cx="215.2" cy="82.3" r="1.05"/><circle cx="158.2" cy="110.1" r="1.05"/><circle cx="248.6" cy="67.0" r="1.05"/><circle cx="199.6" cy="90.2" r="1.05"/><circle cx="243.0" cy="65.1" r="1.05"/><circle cx="203.2" cy="102.0" r="1.05"/><circle cx="183.4" cy="134.4" r="1.05"/><circle cx="193.0" cy="82.7" r="1.05"/><circle cx="166.8" cy="82.8" r="1.05"/><circle cx="188.6" cy="87.6" r="1.05"/><circle cx="196.7" cy="85.2" r="1.05"/><circle cx="185.7" cy="100.0" r="1.05"/><circle cx="248.6" cy="66.7" r="1.05"/><circle cx="145.9" cy="88.7" r="1.05"/><circle cx="136.0" cy="105.0" r="1.05"/><circle cx="145.8" cy="151.1" r="1.05"/><circle cx="154.3" cy="117.2" r="1.05"/><circle cx="122.3" cy="92.6" r="1.05"/><circle cx="220.1" cy="74.0" r="1.05"/><circle cx="222.8" cy="74.2" r="1.05"/><circle cx="186.4" cy="139.4" r="1.05"/><circle cx="214.3" cy="81.9" r="1.05"/><circle cx="203.4" cy="96.1" r="1.05"/><circle cx="173.0" cy="172.0" r="1.05"/><circle cx="220.8" cy="85.8" r="1.05"/><circle cx="156.2" cy="156.4" r="1.05"/><circle cx="141.9" cy="174.3" r="1.05"/><circle cx="141.2" cy="156.0" r="1.05"/><circle cx="114.4" cy="128.9" r="1.05"/><circle cx="134.5" cy="95.2" r="1.05"/><circle cx="120.2" cy="119.8" r="1.05"/><circle cx="166.0" cy="142.8" r="1.05"/><circle cx="183.6" cy="87.2" r="1.05"/><circle cx="167.2" cy="87.0" r="1.05"/><circle cx="181.2" cy="131.1" r="1.05"/><circle cx="163.8" cy="130.7" r="1.05"/><circle cx="146.1" cy="130.0" r="1.05"/><circle cx="137.4" cy="144.5" r="1.05"/><circle cx="192.7" cy="110.3" r="1.05"/><circle cx="203.6" cy="97.3" r="1.05"/><circle cx="276.6" cy="88.4" r="1.05"/><circle cx="152.8" cy="118.2" r="1.05"/><circle cx="139.1" cy="129.4" r="1.05"/><circle cx="270.3" cy="85.9" r="1.05"/><circle cx="212.5" cy="90.0" r="1.05"/><circle cx="166.4" cy="160.2" r="1.05"/><circle cx="166.2" cy="218.8" r="1.05"/><circle cx="158.6" cy="172.1" r="1.05"/><circle cx="164.0" cy="152.1" r="1.05"/><circle cx="179.8" cy="160.9" r="1.05"/><circle cx="183.4" cy="74.1" r="1.05"/><circle cx="187.5" cy="98.6" r="1.05"/><circle cx="115.2" cy="124.4" r="1.05"/><circle cx="208.8" cy="145.5" r="1.05"/><circle cx="175.6" cy="87.9" r="1.05"/><circle cx="179.4" cy="161.9" r="1.05"/><circle cx="168.7" cy="169.0" r="1.05"/><circle cx="137.2" cy="102.3" r="1.05"/><circle cx="181.2" cy="123.3" r="1.05"/><circle cx="169.3" cy="107.5" r="1.05"/><circle cx="177.9" cy="120.4" r="1.05"/><circle cx="161.5" cy="161.3" r="1.05"/><circle cx="176.2" cy="71.1" r="1.05"/><circle cx="143.5" cy="153.0" r="1.05"/><circle cx="117.8" cy="126.7" r="1.05"/><circle cx="192.0" cy="86.5" r="1.05"/><circle cx="200.4" cy="110.2" r="1.05"/><circle cx="133.1" cy="130.2" r="1.05"/><circle cx="204.0" cy="109.0" r="1.05"/><circle cx="229.9" cy="73.2" r="1.05"/><circle cx="185.7" cy="147.8" r="1.05"/><circle cx="189.8" cy="56.3" r="1.05"/><circle cx="152.9" cy="174.2" r="1.05"/><circle cx="147.8" cy="85.8" r="1.05"/><circle cx="190.5" cy="101.3" r="1.05"/><circle cx="224.7" cy="63.2" r="1.05"/><circle cx="139.4" cy="128.3" r="1.05"/><circle cx="182.2" cy="69.7" r="1.05"/><circle cx="216.8" cy="89.0" r="1.05"/><circle cx="183.0" cy="74.9" r="1.05"/><circle cx="193.8" cy="123.0" r="1.05"/><circle cx="178.0" cy="131.3" r="1.05"/><circle cx="147.6" cy="172.2" r="1.05"/><circle cx="154.6" cy="93.2" r="1.05"/><circle cx="177.4" cy="112.2" r="1.05"/><circle cx="152.6" cy="137.0" r="1.05"/><circle cx="194.2" cy="89.0" r="1.05"/><circle cx="161.5" cy="119.2" r="1.05"/><circle cx="128.2" cy="138.0" r="1.05"/><circle cx="160.3" cy="155.4" r="1.05"/><circle cx="170.1" cy="146.1" r="1.05"/><circle cx="168.5" cy="170.4" r="1.05"/><circle cx="153.3" cy="141.8" r="1.05"/><circle cx="111.2" cy="108.3" r="1.05"/><circle cx="263.1" cy="81.6" r="1.05"/><circle cx="147.3" cy="133.8" r="1.05"/><circle cx="148.3" cy="83.6" r="1.05"/><circle cx="180.5" cy="147.8" r="1.05"/><circle cx="123.2" cy="102.9" r="1.05"/><circle cx="168.7" cy="87.5" r="1.05"/><circle cx="164.6" cy="150.1" r="1.05"/><circle cx="150.0" cy="95.9" r="1.05"/><circle cx="157.6" cy="111.1" r="1.05"/><circle cx="125.3" cy="141.4" r="1.05"/><circle cx="149.3" cy="99.5" r="1.05"/><circle cx="119.5" cy="132.0" r="1.05"/><circle cx="202.0" cy="134.8" r="1.05"/><circle cx="117.5" cy="112.9" r="1.05"/><circle cx="147.4" cy="169.7" r="1.05"/><circle cx="227.2" cy="67.2" r="1.05"/><circle cx="160.5" cy="212.4" r="1.05"/><circle cx="114.5" cy="106.9" r="1.05"/><circle cx="130.4" cy="113.9" r="1.05"/><circle cx="186.0" cy="152.8" r="1.05"/><circle cx="117.1" cy="118.6" r="1.05"/><circle cx="191.4" cy="120.9" r="1.05"/><circle cx="155.6" cy="156.9" r="1.05"/><circle cx="175.5" cy="135.2" r="1.05"/><circle cx="118.3" cy="129.2" r="1.05"/><circle cx="184.6" cy="103.0" r="1.05"/><circle cx="146.9" cy="150.9" r="1.05"/><circle cx="182.5" cy="99.9" r="1.05"/><circle cx="189.8" cy="128.5" r="1.05"/><circle cx="138.4" cy="145.3" r="1.05"/><circle cx="207.3" cy="81.4" r="1.05"/><circle cx="112.9" cy="127.6" r="1.05"/><circle cx="182.9" cy="148.3" r="1.05"/><circle cx="139.2" cy="102.6" r="1.05"/><circle cx="187.8" cy="127.6" r="1.05"/><circle cx="181.3" cy="112.7" r="1.05"/><circle cx="118.8" cy="139.0" r="1.05"/><circle cx="246.9" cy="62.1" r="1.05"/></g>
<g fill="rgb(238,108,198)"><circle cx="226.8" cy="97.1" r="1.05"/><circle cx="228.9" cy="95.5" r="1.05"/><circle cx="231.4" cy="94.2" r="1.05"/><circle cx="232.2" cy="92.5" r="1.05"/><circle cx="233.6" cy="91.1" r="1.05"/><circle cx="234.0" cy="93.3" r="1.05"/><circle cx="233.9" cy="94.6" r="1.05"/><circle cx="234.3" cy="92.9" r="1.05"/><circle cx="245.2" cy="91.2" r="1.05"/><circle cx="246.0" cy="92.1" r="1.05"/><circle cx="247.4" cy="93.4" r="1.05"/><circle cx="245.4" cy="94.5" r="1.05"/><circle cx="249.3" cy="93.9" r="1.05"/><circle cx="250.7" cy="93.1" r="1.05"/><circle cx="252.8" cy="92.2" r="1.05"/><circle cx="254.2" cy="92.3" r="1.05"/><circle cx="255.7" cy="92.6" r="1.05"/><circle cx="258.0" cy="92.7" r="1.05"/><circle cx="260.7" cy="94.0" r="1.05"/><circle cx="262.3" cy="93.9" r="1.05"/><circle cx="263.1" cy="95.7" r="1.05"/><circle cx="261.5" cy="95.3" r="1.05"/><circle cx="264.1" cy="96.4" r="1.05"/><circle cx="262.3" cy="97.2" r="1.05"/><circle cx="259.1" cy="96.1" r="1.05"/><circle cx="257.1" cy="95.6" r="1.05"/><circle cx="252.3" cy="94.9" r="1.05"/><circle cx="250.5" cy="96.5" r="1.05"/><circle cx="248.1" cy="97.4" r="1.05"/><circle cx="244.6" cy="97.7" r="1.05"/><circle cx="238.4" cy="96.8" r="1.05"/><circle cx="220.7" cy="100.2" r="1.05"/><circle cx="222.4" cy="99.7" r="1.05"/><circle cx="223.7" cy="101.4" r="1.05"/><circle cx="226.1" cy="100.3" r="1.05"/><circle cx="227.7" cy="101.6" r="1.05"/><circle cx="228.3" cy="98.9" r="1.05"/><circle cx="230.7" cy="100.4" r="1.05"/><circle cx="226.5" cy="104.2" r="1.05"/><circle cx="228.3" cy="105.8" r="1.05"/><circle cx="230.1" cy="107.6" r="1.05"/><circle cx="230.6" cy="109.2" r="1.05"/><circle cx="233.0" cy="110.5" r="1.05"/><circle cx="234.7" cy="111.2" r="1.05"/><circle cx="236.2" cy="111.8" r="1.05"/><circle cx="236.9" cy="110.3" r="1.05"/><circle cx="235.3" cy="100.8" r="1.05"/><circle cx="237.6" cy="99.7" r="1.05"/><circle cx="239.0" cy="99.2" r="1.05"/><circle cx="229.5" cy="105.8" r="1.05"/><circle cx="228.1" cy="103.7" r="1.05"/><circle cx="211.3" cy="125.6" r="1.05"/><circle cx="213.8" cy="123.9" r="1.05"/><circle cx="215.5" cy="123.0" r="1.05"/><circle cx="216.0" cy="122.1" r="1.05"/><circle cx="217.6" cy="122.4" r="1.05"/><circle cx="219.7" cy="121.4" r="1.05"/><circle cx="221.3" cy="123.6" r="1.05"/><circle cx="222.7" cy="124.8" r="1.05"/><circle cx="224.3" cy="126.3" r="1.05"/><circle cx="226.6" cy="126.2" r="1.05"/><circle cx="228.0" cy="126.2" r="1.05"/><circle cx="230.1" cy="128.1" r="1.05"/><circle cx="231.1" cy="129.6" r="1.05"/><circle cx="232.4" cy="131.4" r="1.05"/><circle cx="233.4" cy="132.2" r="1.05"/><circle cx="234.3" cy="134.2" r="1.05"/><circle cx="236.7" cy="135.4" r="1.05"/><circle cx="238.1" cy="133.0" r="1.05"/><circle cx="232.5" cy="123.5" r="1.05"/><circle cx="234.6" cy="122.2" r="1.05"/><circle cx="235.9" cy="122.1" r="1.05"/><circle cx="237.4" cy="125.1" r="1.05"/><circle cx="236.9" cy="126.9" r="1.05"/><circle cx="224.6" cy="135.6" r="1.05"/><circle cx="225.8" cy="136.5" r="1.05"/><circle cx="222.0" cy="135.9" r="1.05"/><circle cx="228.2" cy="138.7" r="1.05"/><circle cx="229.1" cy="138.4" r="1.05"/><circle cx="231.2" cy="137.1" r="1.05"/><circle cx="234.3" cy="138.2" r="1.05"/><circle cx="235.3" cy="139.5" r="1.05"/><circle cx="208.5" cy="140.4" r="1.05"/><circle cx="210.3" cy="137.6" r="1.05"/><circle cx="201.2" cy="132.1" r="1.05"/><circle cx="241.1" cy="100.7" r="1.05"/><circle cx="243.1" cy="99.5" r="1.05"/><circle cx="246.1" cy="100.5" r="1.05"/><circle cx="260.8" cy="98.2" r="1.05"/><circle cx="262.6" cy="100.6" r="1.05"/><circle cx="264.2" cy="99.2" r="1.05"/><circle cx="265.5" cy="102.6" r="1.05"/><circle cx="267.3" cy="100.8" r="1.05"/><circle cx="270.1" cy="101.8" r="1.05"/><circle cx="271.2" cy="98.9" r="1.05"/><circle cx="273.0" cy="101.0" r="1.05"/><circle cx="274.4" cy="98.9" r="1.05"/><circle cx="275.6" cy="99.5" r="1.05"/><circle cx="272.4" cy="102.8" r="1.05"/><circle cx="274.1" cy="103.9" r="1.05"/><circle cx="270.6" cy="105.6" r="1.05"/><circle cx="246.8" cy="103.9" r="1.05"/><circle cx="248.5" cy="105.5" r="1.05"/><circle cx="253.0" cy="104.0" r="1.05"/><circle cx="254.5" cy="106.3" r="1.05"/><circle cx="256.5" cy="107.8" r="1.05"/><circle cx="258.2" cy="107.2" r="1.05"/><circle cx="259.7" cy="104.7" r="1.05"/><circle cx="260.4" cy="105.4" r="1.05"/><circle cx="261.6" cy="104.6" r="1.05"/><circle cx="242.9" cy="109.7" r="1.05"/><circle cx="244.5" cy="111.0" r="1.05"/><circle cx="245.4" cy="111.7" r="1.05"/><circle cx="247.0" cy="113.3" r="1.05"/><circle cx="247.3" cy="114.8" r="1.05"/><circle cx="249.2" cy="113.5" r="1.05"/><circle cx="251.4" cy="113.6" r="1.05"/><circle cx="259.4" cy="113.8" r="1.05"/><circle cx="261.3" cy="111.8" r="1.05"/><circle cx="261.8" cy="110.1" r="1.05"/><circle cx="264.1" cy="109.4" r="1.05"/><circle cx="266.1" cy="111.3" r="1.05"/><circle cx="266.4" cy="113.0" r="1.05"/><circle cx="263.2" cy="114.2" r="1.05"/><circle cx="264.3" cy="115.0" r="1.05"/><circle cx="268.5" cy="110.9" r="1.05"/><circle cx="271.1" cy="109.8" r="1.05"/><circle cx="275.7" cy="110.9" r="1.05"/><circle cx="277.6" cy="109.5" r="1.05"/><circle cx="278.3" cy="109.7" r="1.05"/><circle cx="281.6" cy="109.3" r="1.05"/><circle cx="282.9" cy="109.9" r="1.05"/><circle cx="285.5" cy="110.0" r="1.05"/><circle cx="288.4" cy="110.2" r="1.05"/><circle cx="289.2" cy="111.2" r="1.05"/><circle cx="290.9" cy="108.7" r="1.05"/><circle cx="292.1" cy="108.2" r="1.05"/><circle cx="294.7" cy="108.9" r="1.05"/><circle cx="295.1" cy="109.2" r="1.05"/><circle cx="297.5" cy="111.3" r="1.05"/><circle cx="298.6" cy="111.7" r="1.05"/><circle cx="300.0" cy="111.8" r="1.05"/><circle cx="302.4" cy="111.8" r="1.05"/><circle cx="305.2" cy="112.8" r="1.05"/><circle cx="287.9" cy="113.5" r="1.05"/><circle cx="288.1" cy="113.1" r="1.05"/><circle cx="292.5" cy="113.3" r="1.05"/><circle cx="295.0" cy="112.5" r="1.05"/><circle cx="274.7" cy="112.7" r="1.05"/><circle cx="275.7" cy="113.8" r="1.05"/><circle cx="277.8" cy="115.7" r="1.05"/><circle cx="278.3" cy="117.6" r="1.05"/><circle cx="282.1" cy="118.8" r="1.05"/><circle cx="284.2" cy="120.6" r="1.05"/><circle cx="285.3" cy="120.7" r="1.05"/><circle cx="287.5" cy="118.4" r="1.05"/><circle cx="288.3" cy="118.1" r="1.05"/><circle cx="289.7" cy="116.3" r="1.05"/><circle cx="293.1" cy="117.4" r="1.05"/><circle cx="294.4" cy="118.9" r="1.05"/><circle cx="297.0" cy="117.6" r="1.05"/><circle cx="298.6" cy="119.1" r="1.05"/><circle cx="300.7" cy="119.0" r="1.05"/><circle cx="303.1" cy="118.6" r="1.05"/><circle cx="305.8" cy="116.9" r="1.05"/><circle cx="306.5" cy="116.4" r="1.05"/><circle cx="307.1" cy="114.6" r="1.05"/><circle cx="308.7" cy="118.0" r="1.05"/><circle cx="310.3" cy="118.8" r="1.05"/><circle cx="315.4" cy="119.2" r="1.05"/><circle cx="316.1" cy="119.1" r="1.05"/><circle cx="318.0" cy="120.0" r="1.05"/><circle cx="248.9" cy="122.3" r="1.05"/><circle cx="250.3" cy="122.9" r="1.05"/><circle cx="253.1" cy="123.7" r="1.05"/><circle cx="255.0" cy="124.4" r="1.05"/><circle cx="257.1" cy="125.7" r="1.05"/><circle cx="259.7" cy="125.1" r="1.05"/><circle cx="261.7" cy="126.4" r="1.05"/><circle cx="262.4" cy="125.4" r="1.05"/><circle cx="265.5" cy="125.2" r="1.05"/><circle cx="268.7" cy="121.6" r="1.05"/><circle cx="270.1" cy="121.2" r="1.05"/><circle cx="273.0" cy="121.3" r="1.05"/><circle cx="274.5" cy="122.9" r="1.05"/><circle cx="276.8" cy="123.4" r="1.05"/><circle cx="279.8" cy="122.0" r="1.05"/><circle cx="282.1" cy="122.5" r="1.05"/><circle cx="285.0" cy="122.2" r="1.05"/><circle cx="287.7" cy="121.8" r="1.05"/><circle cx="291.2" cy="121.6" r="1.05"/><circle cx="240.9" cy="126.3" r="1.05"/><circle cx="242.7" cy="128.6" r="1.05"/><circle cx="249.6" cy="128.4" r="1.05"/><circle cx="252.5" cy="127.7" r="1.05"/><circle cx="255.0" cy="129.3" r="1.05"/><circle cx="256.1" cy="131.7" r="1.05"/><circle cx="257.4" cy="132.7" r="1.05"/><circle cx="259.2" cy="131.0" r="1.05"/><circle cx="261.7" cy="128.9" r="1.05"/><circle cx="264.1" cy="128.1" r="1.05"/><circle cx="266.1" cy="129.3" r="1.05"/><circle cx="267.3" cy="128.7" r="1.05"/><circle cx="269.9" cy="126.6" r="1.05"/><circle cx="273.1" cy="128.1" r="1.05"/><circle cx="274.4" cy="128.5" r="1.05"/><circle cx="276.6" cy="129.3" r="1.05"/><circle cx="278.3" cy="131.1" r="1.05"/><circle cx="280.9" cy="131.2" r="1.05"/><circle cx="284.0" cy="130.1" r="1.05"/><circle cx="288.3" cy="128.8" r="1.05"/><circle cx="289.2" cy="126.1" r="1.05"/><circle cx="290.8" cy="127.4" r="1.05"/><circle cx="294.3" cy="128.7" r="1.05"/><circle cx="296.7" cy="130.7" r="1.05"/><circle cx="298.7" cy="131.7" r="1.05"/><circle cx="300.2" cy="130.5" r="1.05"/><circle cx="301.7" cy="129.8" r="1.05"/><circle cx="305.0" cy="129.5" r="1.05"/><circle cx="307.5" cy="129.4" r="1.05"/><circle cx="308.9" cy="129.9" r="1.05"/><circle cx="312.3" cy="130.5" r="1.05"/><circle cx="313.5" cy="132.1" r="1.05"/><circle cx="316.8" cy="130.8" r="1.05"/><circle cx="318.2" cy="130.5" r="1.05"/><circle cx="321.7" cy="132.4" r="1.05"/><circle cx="324.7" cy="132.0" r="1.05"/><circle cx="242.6" cy="133.5" r="1.05"/><circle cx="243.4" cy="131.7" r="1.05"/><circle cx="243.5" cy="135.5" r="1.05"/><circle cx="245.4" cy="136.9" r="1.05"/><circle cx="242.3" cy="138.7" r="1.05"/><circle cx="249.0" cy="132.7" r="1.05"/><circle cx="250.7" cy="134.8" r="1.05"/><circle cx="253.3" cy="136.1" r="1.05"/><circle cx="256.5" cy="134.9" r="1.05"/><circle cx="256.8" cy="136.5" r="1.05"/><circle cx="258.6" cy="135.7" r="1.05"/><circle cx="260.2" cy="139.1" r="1.05"/><circle cx="264.2" cy="137.9" r="1.05"/><circle cx="265.8" cy="136.0" r="1.05"/><circle cx="267.4" cy="134.5" r="1.05"/><circle cx="269.2" cy="135.6" r="1.05"/><circle cx="271.3" cy="136.9" r="1.05"/><circle cx="272.8" cy="135.5" r="1.05"/><circle cx="276.5" cy="133.6" r="1.05"/><circle cx="277.3" cy="135.2" r="1.05"/><circle cx="279.4" cy="133.5" r="1.05"/><circle cx="281.2" cy="135.0" r="1.05"/><circle cx="283.0" cy="135.9" r="1.05"/><circle cx="284.5" cy="138.2" r="1.05"/><circle cx="288.4" cy="136.9" r="1.05"/><circle cx="288.9" cy="134.6" r="1.05"/><circle cx="291.3" cy="137.2" r="1.05"/><circle cx="293.2" cy="140.3" r="1.05"/><circle cx="296.4" cy="139.0" r="1.05"/><circle cx="297.8" cy="136.7" r="1.05"/><circle cx="299.7" cy="135.5" r="1.05"/><circle cx="301.0" cy="136.6" r="1.05"/><circle cx="303.7" cy="135.9" r="1.05"/><circle cx="305.4" cy="137.5" r="1.05"/><circle cx="306.5" cy="137.3" r="1.05"/><circle cx="309.0" cy="136.8" r="1.05"/><circle cx="309.7" cy="138.0" r="1.05"/><circle cx="311.7" cy="135.8" r="1.05"/><circle cx="312.9" cy="134.5" r="1.05"/><circle cx="315.3" cy="137.0" r="1.05"/><circle cx="316.0" cy="138.0" r="1.05"/><circle cx="317.6" cy="135.6" r="1.05"/><circle cx="319.3" cy="138.8" r="1.05"/><circle cx="200.7" cy="141.8" r="1.05"/><circle cx="202.9" cy="144.7" r="1.05"/><circle cx="203.5" cy="147.8" r="1.05"/><circle cx="203.8" cy="150.3" r="1.05"/><circle cx="207.8" cy="142.4" r="1.05"/><circle cx="210.7" cy="142.9" r="1.05"/><circle cx="211.6" cy="145.0" r="1.05"/><circle cx="213.6" cy="147.1" r="1.05"/><circle cx="215.4" cy="148.5" r="1.05"/><circle cx="216.4" cy="148.5" r="1.05"/><circle cx="219.3" cy="145.7" r="1.05"/><circle cx="221.6" cy="148.1" r="1.05"/><circle cx="221.9" cy="150.4" r="1.05"/><circle cx="223.3" cy="150.8" r="1.05"/><circle cx="225.0" cy="148.9" r="1.05"/><circle cx="226.4" cy="146.0" r="1.05"/><circle cx="228.0" cy="144.6" r="1.05"/><circle cx="229.6" cy="142.0" r="1.05"/><circle cx="230.6" cy="145.3" r="1.05"/><circle cx="233.4" cy="147.0" r="1.05"/><circle cx="235.0" cy="148.7" r="1.05"/><circle cx="235.7" cy="149.8" r="1.05"/><circle cx="237.2" cy="147.5" r="1.05"/><circle cx="239.6" cy="145.0" r="1.05"/><circle cx="220.9" cy="143.3" r="1.05"/><circle cx="224.2" cy="143.0" r="1.05"/><circle cx="226.4" cy="141.4" r="1.05"/><circle cx="232.7" cy="141.8" r="1.05"/><circle cx="235.7" cy="142.6" r="1.05"/><circle cx="238.3" cy="141.5" r="1.05"/><circle cx="193.7" cy="157.2" r="1.05"/><circle cx="196.2" cy="158.9" r="1.05"/><circle cx="196.9" cy="160.0" r="1.05"/><circle cx="199.2" cy="156.6" r="1.05"/><circle cx="200.9" cy="159.5" r="1.05"/><circle cx="201.8" cy="161.2" r="1.05"/><circle cx="203.6" cy="160.0" r="1.05"/><circle cx="205.2" cy="157.6" r="1.05"/><circle cx="206.5" cy="157.0" r="1.05"/><circle cx="208.0" cy="159.0" r="1.05"/><circle cx="210.0" cy="160.5" r="1.05"/><circle cx="211.9" cy="156.8" r="1.05"/><circle cx="213.9" cy="157.4" r="1.05"/><circle cx="215.7" cy="158.0" r="1.05"/><circle cx="217.2" cy="159.8" r="1.05"/><circle cx="218.2" cy="160.7" r="1.05"/><circle cx="220.3" cy="159.2" r="1.05"/><circle cx="222.2" cy="157.4" r="1.05"/><circle cx="222.6" cy="155.8" r="1.05"/><circle cx="224.3" cy="155.6" r="1.05"/><circle cx="226.5" cy="157.2" r="1.05"/><circle cx="227.4" cy="158.4" r="1.05"/><circle cx="229.5" cy="160.3" r="1.05"/><circle cx="231.0" cy="162.4" r="1.05"/><circle cx="232.4" cy="163.3" r="1.05"/><circle cx="234.6" cy="161.3" r="1.05"/><circle cx="236.4" cy="159.0" r="1.05"/><circle cx="237.4" cy="158.1" r="1.05"/><circle cx="239.1" cy="155.6" r="1.05"/><circle cx="225.7" cy="161.8" r="1.05"/><circle cx="228.0" cy="163.6" r="1.05"/><circle cx="223.2" cy="161.9" r="1.05"/><circle cx="219.9" cy="164.1" r="1.05"/><circle cx="216.3" cy="162.1" r="1.05"/><circle cx="215.3" cy="161.0" r="1.05"/><circle cx="210.5" cy="164.2" r="1.05"/><circle cx="209.0" cy="165.6" r="1.05"/><circle cx="207.1" cy="163.6" r="1.05"/><circle cx="229.8" cy="152.1" r="1.05"/><circle cx="231.1" cy="154.4" r="1.05"/><circle cx="232.2" cy="152.4" r="1.05"/><circle cx="234.9" cy="156.0" r="1.05"/><circle cx="235.4" cy="154.3" r="1.05"/><circle cx="238.1" cy="153.1" r="1.05"/><circle cx="239.0" cy="152.9" r="1.05"/><circle cx="227.3" cy="155.0" r="1.05"/><circle cx="233.2" cy="150.6" r="1.05"/><circle cx="235.8" cy="152.0" r="1.05"/><circle cx="241.5" cy="144.5" r="1.05"/><circle cx="241.9" cy="146.6" r="1.05"/><circle cx="244.1" cy="148.0" r="1.05"/><circle cx="245.6" cy="148.7" r="1.05"/><circle cx="247.4" cy="148.6" r="1.05"/><circle cx="248.5" cy="149.2" r="1.05"/><circle cx="250.0" cy="150.0" r="1.05"/><circle cx="252.3" cy="141.2" r="1.05"/><circle cx="253.8" cy="143.6" r="1.05"/><circle cx="254.9" cy="142.2" r="1.05"/><circle cx="257.3" cy="144.1" r="1.05"/><circle cx="259.5" cy="142.9" r="1.05"/><circle cx="260.3" cy="146.4" r="1.05"/><circle cx="260.3" cy="148.0" r="1.05"/><circle cx="261.5" cy="150.0" r="1.05"/><circle cx="259.6" cy="149.1" r="1.05"/><circle cx="256.7" cy="148.4" r="1.05"/><circle cx="254.6" cy="152.0" r="1.05"/><circle cx="251.8" cy="151.5" r="1.05"/><circle cx="249.3" cy="153.5" r="1.05"/><circle cx="247.2" cy="155.6" r="1.05"/><circle cx="246.9" cy="153.5" r="1.05"/><circle cx="243.8" cy="151.8" r="1.05"/><circle cx="241.5" cy="155.1" r="1.05"/><circle cx="241.8" cy="156.2" r="1.05"/><circle cx="242.9" cy="157.9" r="1.05"/><circle cx="241.5" cy="160.5" r="1.05"/><circle cx="242.5" cy="161.4" r="1.05"/><circle cx="245.4" cy="161.3" r="1.05"/><circle cx="246.2" cy="161.1" r="1.05"/><circle cx="247.7" cy="163.2" r="1.05"/><circle cx="248.6" cy="164.8" r="1.05"/><circle cx="250.5" cy="166.4" r="1.05"/><circle cx="251.1" cy="168.5" r="1.05"/><circle cx="251.7" cy="169.3" r="1.05"/><circle cx="252.4" cy="171.8" r="1.05"/><circle cx="254.4" cy="171.9" r="1.05"/><circle cx="263.8" cy="152.3" r="1.05"/><circle cx="265.6" cy="154.2" r="1.05"/><circle cx="266.5" cy="150.7" r="1.05"/><circle cx="267.2" cy="148.5" r="1.05"/><circle cx="269.0" cy="142.2" r="1.05"/><circle cx="271.5" cy="141.9" r="1.05"/><circle cx="270.6" cy="143.5" r="1.05"/><circle cx="271.2" cy="148.2" r="1.05"/><circle cx="273.0" cy="148.8" r="1.05"/><circle cx="274.9" cy="147.8" r="1.05"/><circle cx="276.8" cy="147.6" r="1.05"/><circle cx="278.1" cy="146.3" r="1.05"/><circle cx="279.7" cy="149.6" r="1.05"/><circle cx="281.7" cy="150.2" r="1.05"/><circle cx="281.7" cy="147.1" r="1.05"/><circle cx="283.6" cy="144.7" r="1.05"/><circle cx="285.1" cy="151.4" r="1.05"/><circle cx="283.7" cy="153.5" r="1.05"/><circle cx="281.9" cy="154.2" r="1.05"/><circle cx="279.9" cy="155.4" r="1.05"/><circle cx="278.8" cy="153.9" r="1.05"/><circle cx="276.1" cy="152.3" r="1.05"/><circle cx="275.1" cy="152.7" r="1.05"/><circle cx="273.1" cy="151.1" r="1.05"/><circle cx="272.2" cy="152.4" r="1.05"/><circle cx="270.4" cy="156.6" r="1.05"/><circle cx="268.6" cy="156.7" r="1.05"/><circle cx="267.6" cy="158.3" r="1.05"/><circle cx="265.7" cy="158.1" r="1.05"/><circle cx="264.5" cy="160.0" r="1.05"/><circle cx="263.0" cy="162.3" r="1.05"/><circle cx="264.8" cy="162.0" r="1.05"/><circle cx="265.7" cy="160.8" r="1.05"/><circle cx="267.5" cy="159.6" r="1.05"/><circle cx="269.6" cy="159.1" r="1.05"/><circle cx="271.0" cy="158.9" r="1.05"/><circle cx="272.1" cy="159.4" r="1.05"/><circle cx="274.2" cy="159.7" r="1.05"/><circle cx="275.7" cy="161.7" r="1.05"/><circle cx="277.5" cy="162.0" r="1.05"/><circle cx="278.7" cy="160.2" r="1.05"/><circle cx="280.9" cy="160.6" r="1.05"/><circle cx="282.2" cy="158.8" r="1.05"/><circle cx="283.4" cy="157.5" r="1.05"/><circle cx="285.4" cy="155.6" r="1.05"/><circle cx="287.2" cy="154.2" r="1.05"/><circle cx="288.8" cy="152.4" r="1.05"/><circle cx="290.8" cy="152.0" r="1.05"/><circle cx="292.4" cy="150.4" r="1.05"/><circle cx="293.6" cy="147.6" r="1.05"/><circle cx="294.4" cy="146.8" r="1.05"/><circle cx="297.1" cy="146.6" r="1.05"/><circle cx="298.0" cy="145.5" r="1.05"/><circle cx="300.3" cy="145.1" r="1.05"/><circle cx="300.8" cy="144.0" r="1.05"/><circle cx="303.5" cy="143.8" r="1.05"/><circle cx="305.1" cy="142.7" r="1.05"/><circle cx="288.1" cy="144.5" r="1.05"/><circle cx="288.9" cy="143.0" r="1.05"/><circle cx="291.6" cy="144.5" r="1.05"/><circle cx="292.9" cy="142.9" r="1.05"/><circle cx="293.5" cy="144.5" r="1.05"/><circle cx="295.6" cy="145.2" r="1.05"/><circle cx="297.1" cy="143.6" r="1.05"/><circle cx="299.5" cy="143.2" r="1.05"/><circle cx="300.9" cy="146.0" r="1.05"/><circle cx="302.0" cy="148.2" r="1.05"/><circle cx="300.9" cy="149.1" r="1.05"/><circle cx="299.8" cy="152.4" r="1.05"/><circle cx="301.0" cy="154.1" r="1.05"/><circle cx="298.7" cy="156.0" r="1.05"/><circle cx="296.7" cy="157.6" r="1.05"/><circle cx="294.5" cy="158.3" r="1.05"/><circle cx="292.8" cy="160.0" r="1.05"/><circle cx="291.6" cy="161.2" r="1.05"/><circle cx="290.1" cy="164.5" r="1.05"/><circle cx="292.1" cy="165.2" r="1.05"/><circle cx="294.0" cy="167.9" r="1.05"/><circle cx="289.8" cy="156.4" r="1.05"/><circle cx="288.4" cy="159.0" r="1.05"/><circle cx="286.3" cy="160.4" r="1.05"/><circle cx="307.3" cy="146.0" r="1.05"/><circle cx="308.8" cy="144.5" r="1.05"/><circle cx="309.8" cy="146.1" r="1.05"/><circle cx="311.1" cy="144.4" r="1.05"/><circle cx="313.0" cy="144.1" r="1.05"/><circle cx="315.3" cy="145.1" r="1.05"/><circle cx="315.8" cy="144.1" r="1.05"/><circle cx="318.8" cy="142.8" r="1.05"/><circle cx="321.0" cy="142.2" r="1.05"/><circle cx="271.8" cy="165.3" r="1.05"/><circle cx="273.6" cy="166.6" r="1.05"/><circle cx="274.6" cy="167.7" r="1.05"/><circle cx="276.4" cy="167.5" r="1.05"/><circle cx="278.4" cy="166.2" r="1.05"/><circle cx="279.8" cy="168.0" r="1.05"/><circle cx="281.0" cy="169.0" r="1.05"/><circle cx="283.1" cy="170.1" r="1.05"/><circle cx="285.1" cy="169.9" r="1.05"/><circle cx="286.5" cy="168.1" r="1.05"/><circle cx="287.6" cy="168.3" r="1.05"/><circle cx="258.4" cy="167.0" r="1.05"/><circle cx="258.5" cy="168.6" r="1.05"/><circle cx="260.8" cy="170.0" r="1.05"/><circle cx="262.6" cy="169.9" r="1.05"/><circle cx="263.9" cy="171.1" r="1.05"/><circle cx="264.8" cy="172.2" r="1.05"/><circle cx="267.3" cy="173.0" r="1.05"/><circle cx="268.4" cy="173.4" r="1.05"/><circle cx="270.3" cy="175.1" r="1.05"/><circle cx="272.1" cy="174.2" r="1.05"/><circle cx="273.9" cy="173.8" r="1.05"/><circle cx="275.3" cy="172.6" r="1.05"/><circle cx="276.5" cy="175.0" r="1.05"/><circle cx="278.8" cy="174.0" r="1.05"/><circle cx="280.2" cy="173.5" r="1.05"/><circle cx="280.9" cy="171.8" r="1.05"/><circle cx="262.1" cy="172.6" r="1.05"/><circle cx="260.3" cy="173.1" r="1.05"/><circle cx="259.6" cy="172.9" r="1.05"/><circle cx="271.2" cy="179.7" r="1.05"/><circle cx="272.1" cy="180.7" r="1.05"/><circle cx="274.2" cy="181.4" r="1.05"/><circle cx="275.6" cy="183.4" r="1.05"/><circle cx="276.8" cy="181.5" r="1.05"/><circle cx="279.5" cy="180.3" r="1.05"/><circle cx="279.1" cy="177.9" r="1.05"/><circle cx="280.1" cy="180.7" r="1.05"/><circle cx="281.3" cy="183.2" r="1.05"/><circle cx="279.7" cy="177.7" r="1.05"/><circle cx="276.2" cy="184.3" r="1.05"/><circle cx="156.5" cy="39.6" r="1.05"/><circle cx="157.6" cy="40.3" r="1.05"/><circle cx="159.8" cy="38.5" r="1.05"/><circle cx="160.4" cy="37.3" r="1.05"/><circle cx="160.5" cy="36.3" r="1.05"/><circle cx="162.0" cy="35.9" r="1.05"/><circle cx="162.4" cy="37.0" r="1.05"/><circle cx="164.9" cy="38.4" r="1.05"/><circle cx="166.6" cy="38.0" r="1.05"/><circle cx="167.0" cy="36.2" r="1.05"/><circle cx="168.8" cy="34.8" r="1.05"/><circle cx="170.7" cy="36.2" r="1.05"/><circle cx="158.6" cy="41.7" r="1.05"/><circle cx="160.2" cy="44.1" r="1.05"/><circle cx="162.4" cy="43.7" r="1.05"/><circle cx="162.4" cy="43.2" r="1.05"/><circle cx="165.5" cy="43.5" r="1.05"/><circle cx="167.8" cy="40.6" r="1.05"/><circle cx="169.5" cy="41.8" r="1.05"/><circle cx="171.8" cy="42.7" r="1.05"/><circle cx="172.2" cy="45.0" r="1.05"/><circle cx="174.7" cy="46.3" r="1.05"/><circle cx="157.7" cy="43.3" r="1.05"/><circle cx="167.4" cy="30.7" r="1.05"/><circle cx="168.6" cy="31.1" r="1.05"/><circle cx="171.0" cy="27.6" r="1.05"/><circle cx="167.6" cy="28.7" r="1.05"/><circle cx="174.4" cy="30.2" r="1.05"/><circle cx="172.9" cy="30.2" r="1.05"/><circle cx="171.1" cy="28.2" r="1.05"/><circle cx="171.0" cy="32.8" r="1.05"/><circle cx="170.0" cy="31.9" r="1.05"/><circle cx="171.4" cy="27.6" r="1.05"/><circle cx="172.2" cy="31.0" r="1.05"/><circle cx="173.2" cy="30.2" r="1.05"/><circle cx="171.8" cy="32.8" r="1.05"/><circle cx="171.8" cy="33.1" r="1.05"/><circle cx="168.8" cy="32.3" r="1.05"/><circle cx="169.3" cy="33.2" r="1.05"/><circle cx="166.5" cy="28.6" r="1.05"/><circle cx="174.1" cy="30.0" r="1.05"/><circle cx="171.0" cy="29.1" r="1.05"/><circle cx="169.9" cy="29.7" r="1.05"/><circle cx="168.4" cy="30.9" r="1.05"/><circle cx="170.6" cy="33.0" r="1.05"/><circle cx="171.5" cy="33.1" r="1.05"/><circle cx="171.4" cy="28.2" r="1.05"/><circle cx="173.5" cy="30.8" r="1.05"/><circle cx="171.8" cy="28.6" r="1.05"/><circle cx="172.9" cy="30.9" r="1.05"/><circle cx="167.8" cy="27.6" r="1.05"/><circle cx="169.0" cy="28.2" r="1.05"/><circle cx="167.9" cy="32.1" r="1.05"/><circle cx="170.9" cy="27.5" r="1.05"/><circle cx="171.8" cy="29.3" r="1.05"/><circle cx="169.8" cy="33.6" r="1.05"/><circle cx="168.0" cy="27.7" r="1.05"/><circle cx="170.7" cy="27.4" r="1.05"/><circle cx="167.0" cy="29.8" r="1.05"/><circle cx="170.8" cy="28.2" r="1.05"/><circle cx="168.1" cy="33.3" r="1.05"/><circle cx="173.4" cy="29.6" r="1.05"/><circle cx="169.4" cy="30.5" r="1.05"/><circle cx="171.1" cy="31.0" r="1.05"/><circle cx="170.3" cy="31.2" r="1.05"/><circle cx="233.7" cy="152.5" r="1.05"/><circle cx="198.8" cy="158.7" r="1.05"/><circle cx="261.4" cy="94.8" r="1.05"/><circle cx="269.1" cy="178.1" r="1.05"/><circle cx="227.3" cy="160.4" r="1.05"/><circle cx="304.1" cy="144.3" r="1.05"/><circle cx="173.3" cy="36.3" r="1.05"/><circle cx="259.4" cy="141.3" r="1.05"/><circle cx="278.3" cy="132.4" r="1.05"/><circle cx="278.5" cy="181.2" r="1.05"/><circle cx="261.1" cy="173.5" r="1.05"/><circle cx="314.3" cy="131.5" r="1.05"/><circle cx="237.4" cy="110.9" r="1.05"/><circle cx="201.7" cy="130.6" r="1.05"/><circle cx="289.6" cy="146.3" r="1.05"/><circle cx="246.8" cy="137.6" r="1.05"/><circle cx="222.7" cy="124.9" r="1.05"/><circle cx="316.4" cy="136.0" r="1.05"/><circle cx="283.9" cy="151.2" r="1.05"/><circle cx="251.7" cy="171.4" r="1.05"/><circle cx="287.9" cy="111.4" r="1.05"/><circle cx="272.3" cy="128.7" r="1.05"/><circle cx="242.4" cy="131.7" r="1.05"/><circle cx="245.8" cy="149.8" r="1.05"/><circle cx="265.5" cy="115.5" r="1.05"/><circle cx="320.4" cy="141.9" r="1.05"/><circle cx="269.2" cy="136.2" r="1.05"/><circle cx="296.1" cy="129.0" r="1.05"/><circle cx="285.5" cy="171.9" r="1.05"/><circle cx="256.4" cy="169.6" r="1.05"/><circle cx="253.6" cy="94.0" r="1.05"/><circle cx="305.1" cy="134.8" r="1.05"/><circle cx="297.0" cy="110.4" r="1.05"/><circle cx="270.3" cy="153.0" r="1.05"/><circle cx="301.7" cy="115.8" r="1.05"/><circle cx="281.2" cy="171.7" r="1.05"/><circle cx="260.5" cy="170.3" r="1.05"/><circle cx="311.7" cy="132.3" r="1.05"/><circle cx="299.1" cy="153.8" r="1.05"/><circle cx="295.2" cy="111.6" r="1.05"/><circle cx="238.5" cy="138.8" r="1.05"/><circle cx="214.3" cy="151.3" r="1.05"/><circle cx="156.0" cy="38.5" r="1.05"/><circle cx="233.9" cy="137.3" r="1.05"/><circle cx="280.4" cy="158.7" r="1.05"/><circle cx="247.0" cy="98.6" r="1.05"/><circle cx="303.0" cy="145.2" r="1.05"/><circle cx="266.7" cy="109.8" r="1.05"/><circle cx="273.1" cy="109.9" r="1.05"/><circle cx="300.1" cy="112.7" r="1.05"/><circle cx="296.2" cy="148.4" r="1.05"/><circle cx="228.9" cy="135.4" r="1.05"/><circle cx="304.2" cy="115.6" r="1.05"/><circle cx="231.6" cy="105.5" r="1.05"/><circle cx="273.6" cy="100.2" r="1.05"/><circle cx="237.5" cy="134.9" r="1.05"/><circle cx="244.6" cy="150.6" r="1.05"/><circle cx="287.5" cy="126.2" r="1.05"/><circle cx="275.5" cy="159.8" r="1.05"/><circle cx="271.1" cy="157.4" r="1.05"/><circle cx="245.6" cy="150.7" r="1.05"/><circle cx="227.6" cy="141.8" r="1.05"/><circle cx="319.7" cy="137.5" r="1.05"/><circle cx="302.1" cy="129.3" r="1.05"/><circle cx="250.0" cy="98.5" r="1.05"/><circle cx="221.3" cy="154.3" r="1.05"/><circle cx="291.8" cy="139.5" r="1.05"/><circle cx="290.4" cy="111.7" r="1.05"/><circle cx="247.5" cy="130.6" r="1.05"/><circle cx="257.4" cy="123.5" r="1.05"/><circle cx="257.3" cy="135.2" r="1.05"/><circle cx="266.3" cy="147.0" r="1.05"/><circle cx="286.4" cy="149.3" r="1.05"/><circle cx="243.8" cy="134.6" r="1.05"/><circle cx="261.2" cy="110.3" r="1.05"/><circle cx="194.9" cy="160.0" r="1.05"/><circle cx="227.7" cy="96.6" r="1.05"/><circle cx="267.2" cy="136.2" r="1.05"/><circle cx="227.1" cy="153.4" r="1.05"/><circle cx="196.4" cy="157.3" r="1.05"/><circle cx="284.7" cy="159.1" r="1.05"/><circle cx="244.7" cy="97.9" r="1.05"/><circle cx="280.8" cy="130.8" r="1.05"/><circle cx="270.9" cy="121.6" r="1.05"/><circle cx="263.8" cy="172.4" r="1.05"/><circle cx="156.7" cy="39.2" r="1.05"/><circle cx="309.0" cy="131.5" r="1.05"/><circle cx="202.1" cy="158.6" r="1.05"/><circle cx="293.6" cy="131.1" r="1.05"/><circle cx="284.8" cy="144.3" r="1.05"/><circle cx="286.7" cy="123.3" r="1.05"/><circle cx="153.0" cy="39.2" r="1.05"/><circle cx="296.1" cy="119.0" r="1.05"/><circle cx="257.0" cy="94.8" r="1.05"/><circle cx="256.4" cy="132.4" r="1.05"/><circle cx="273.0" cy="171.3" r="1.05"/><circle cx="242.0" cy="150.0" r="1.05"/><circle cx="268.6" cy="98.5" r="1.05"/><circle cx="209.1" cy="127.5" r="1.05"/><circle cx="267.0" cy="170.7" r="1.05"/><circle cx="250.7" cy="153.6" r="1.05"/><circle cx="291.4" cy="118.3" r="1.05"/><circle cx="251.0" cy="122.7" r="1.05"/><circle cx="240.9" cy="143.4" r="1.05"/><circle cx="231.5" cy="93.8" r="1.05"/><circle cx="293.5" cy="163.0" r="1.05"/><circle cx="309.8" cy="116.2" r="1.05"/><circle cx="238.8" cy="146.2" r="1.05"/><circle cx="283.6" cy="169.1" r="1.05"/><circle cx="292.0" cy="151.0" r="1.05"/><circle cx="212.2" cy="149.4" r="1.05"/><circle cx="239.3" cy="98.7" r="1.05"/><circle cx="246.7" cy="150.7" r="1.05"/><circle cx="259.6" cy="138.0" r="1.05"/><circle cx="255.9" cy="143.0" r="1.05"/><circle cx="284.1" cy="165.8" r="1.05"/><circle cx="268.9" cy="125.0" r="1.05"/><circle cx="236.2" cy="154.8" r="1.05"/><circle cx="292.5" cy="145.0" r="1.05"/><circle cx="198.3" cy="144.0" r="1.05"/><circle cx="279.4" cy="155.2" r="1.05"/><circle cx="173.2" cy="42.1" r="1.05"/><circle cx="266.5" cy="137.0" r="1.05"/><circle cx="270.0" cy="100.9" r="1.05"/><circle cx="218.9" cy="120.2" r="1.05"/><circle cx="238.8" cy="94.1" r="1.05"/><circle cx="260.0" cy="103.1" r="1.05"/><circle cx="313.6" cy="121.1" r="1.05"/><circle cx="282.1" cy="146.3" r="1.05"/><circle cx="273.3" cy="132.2" r="1.05"/></g>
<rect x="48.8" y="22.5" width="80.6" height="60.8" rx="2.2" fill="#fff" fill-opacity="0.85" stroke="#d0d0d0" stroke-width="0.9"/>
<circle cx="52.0" cy="32.10" r="2.0" fill="rgb(35,122,188)"/>
<text x="55.80" y="35.00" font-size="9.6" text-anchor="start" textLength="72.40" lengthAdjust="spacingAndGlyphs" fill="#1a1a1a" stroke="#1a1a1a" stroke-width="0.04" >Cluster 1(n=412)</text>
<circle cx="52.0" cy="46.40" r="2.0" fill="rgb(240,124,30)"/>
<text x="55.80" y="49.30" font-size="9.6" text-anchor="start" textLength="72.40" lengthAdjust="spacingAndGlyphs" fill="#1a1a1a" stroke="#1a1a1a" stroke-width="0.04" >Cluster 2(n=109)</text>
<circle cx="52.0" cy="60.70" r="2.0" fill="rgb(55,188,62)"/>
<text x="55.80" y="63.60" font-size="9.6" text-anchor="start" textLength="72.40" lengthAdjust="spacingAndGlyphs" fill="#1a1a1a" stroke="#1a1a1a" stroke-width="0.04" >Cluster 3(n=676)</text>
<circle cx="52.0" cy="75.00" r="2.0" fill="rgb(238,108,198)"/>
<text x="55.80" y="77.90" font-size="9.6" text-anchor="start" textLength="72.40" lengthAdjust="spacingAndGlyphs" fill="#1a1a1a" stroke="#1a1a1a" stroke-width="0.04" >Cluster 4(n=711)</text>
<rect x="44.0" y="17.2" width="295.70" height="220.00" fill="none" stroke="#333" stroke-width="0.9"/>
<text x="65.80" y="251.10" font-size="10.5" text-anchor="middle" textLength="20.47" lengthAdjust="spacingAndGlyphs" fill="#1a1a1a" stroke="#1a1a1a" stroke-width="0.04" >−15</text>
<text x="99.00" y="251.10" font-size="10.5" text-anchor="middle" textLength="20.47" lengthAdjust="spacingAndGlyphs" fill="#1a1a1a" stroke="#1a1a1a" stroke-width="0.04" >−10</text>
<text x="132.20" y="251.10" font-size="10.5" text-anchor="middle" textLength="14.30" lengthAdjust="spacingAndGlyphs" fill="#1a1a1a" stroke="#1a1a1a" stroke-width="0.04" >−5</text>
<text x="165.40" y="251.10" font-size="10.5" text-anchor="middle" textLength="6.17" lengthAdjust="spacingAndGlyphs" fill="#1a1a1a" stroke="#1a1a1a" stroke-width="0.04" >0</text>
<text x="198.60" y="251.10" font-size="10.5" text-anchor="middle" textLength="6.17" lengthAdjust="spacingAndGlyphs" fill="#1a1a1a" stroke="#1a1a1a" stroke-width="0.04" >5</text>
<text x="231.80" y="251.10" font-size="10.5" text-anchor="middle" textLength="12.34" lengthAdjust="spacingAndGlyphs" fill="#1a1a1a" stroke="#1a1a1a" stroke-width="0.04" >10</text>
<text x="265.00" y="251.10" font-size="10.5" text-anchor="middle" textLength="12.34" lengthAdjust="spacingAndGlyphs" fill="#1a1a1a" stroke="#1a1a1a" stroke-width="0.04" >15</text>
<text x="298.20" y="251.10" font-size="10.5" text-anchor="middle" textLength="12.34" lengthAdjust="spacingAndGlyphs" fill="#1a1a1a" stroke="#1a1a1a" stroke-width="0.04" >20</text>
<text x="331.40" y="251.10" font-size="10.5" text-anchor="middle" textLength="12.34" lengthAdjust="spacingAndGlyphs" fill="#1a1a1a" stroke="#1a1a1a" stroke-width="0.04" >25</text>
<text x="37.60" y="40.30" font-size="10.5" text-anchor="end" textLength="12.34" lengthAdjust="spacingAndGlyphs" fill="#1a1a1a" stroke="#1a1a1a" stroke-width="0.04" >30</text>
<text x="37.60" y="82.90" font-size="10.5" text-anchor="end" textLength="12.34" lengthAdjust="spacingAndGlyphs" fill="#1a1a1a" stroke="#1a1a1a" stroke-width="0.04" >20</text>
<text x="37.60" y="125.50" font-size="10.5" text-anchor="end" textLength="12.34" lengthAdjust="spacingAndGlyphs" fill="#1a1a1a" stroke="#1a1a1a" stroke-width="0.04" >10</text>
<text x="37.60" y="168.10" font-size="10.5" text-anchor="end" textLength="6.17" lengthAdjust="spacingAndGlyphs" fill="#1a1a1a" stroke="#1a1a1a" stroke-width="0.04" >0</text>
<text x="37.60" y="210.70" font-size="10.5" text-anchor="end" textLength="20.47" lengthAdjust="spacingAndGlyphs" fill="#1a1a1a" stroke="#1a1a1a" stroke-width="0.04" >−10</text>
<path d="M65.50 237.2v3.5 M99.50 237.2v3.5 M132.50 237.2v3.5 M165.50 237.2v3.5 M198.50 237.2v3.5 M231.50 237.2v3.5 M265.50 237.2v3.5 M298.50 237.2v3.5 M331.50 237.2v3.5 M44.0 36.50h-3.5 M44.0 79.50h-3.5 M44.0 121.50h-3.5 M44.0 164.50h-3.5 M44.0 207.50h-3.5" stroke="#333" stroke-width="0.9" fill="none"/>
<text x="138.20" y="267.00" font-size="10.9" text-anchor="start" textLength="95.20" lengthAdjust="spacingAndGlyphs" fill="#1a1a1a" stroke="#1a1a1a" stroke-width="0.04" >UMAP dimension 1</text>
<text x="0.00" y="0.00" font-size="10.9" text-anchor="start" textLength="94.40" lengthAdjust="spacingAndGlyphs" fill="#1a1a1a" stroke="#1a1a1a" stroke-width="0.04" transform="translate(14.1,170.7) rotate(-90)">UMAP dimension 2</text>
<text x="189.40" y="233.70" font-size="11.2" text-anchor="start" textLength="146.20" lengthAdjust="spacingAndGlyphs" fill="#1a1a1a" stroke="#1a1a1a" stroke-width="0.04" >silhouette coefficient: 0.783</text>
<text x="0.60" y="13.10" font-size="16" text-anchor="start" fill="#1a1a1a" stroke="#1a1a1a" stroke-width="0.04" >a</text>
<path d="M395.40 24.80 L410.00 24.80 L410.00 25.10 L423.40 25.10 L423.40 25.50 L435.00 25.50 L435.00 25.80 L445.60 25.80 L445.60 26.00 L483.80 26.00 L483.80 28.00 L532.80 28.00 L532.80 30.00 L541.20 30.00 L541.20 32.20 L544.70 32.20 L544.70 35.10 L589.60 35.10 L589.60 40.70 L642.50 40.70 L642.50 114.50 L589.60 114.50 L589.60 74.00 L532.80 74.00 L532.80 43.60 L483.80 43.60 L483.80 35.50 L445.60 35.50 L445.60 32.30 L412.70 32.30 L412.70 31.60 L401.80 31.60 L401.80 29.80 L396.50 29.80 L396.50 28.70 L395.40 28.70Z" fill="rgb(35,139,183)" fill-opacity="0.25" stroke="rgb(35,139,183)" stroke-opacity="0.17" stroke-width="0.8"/>
<path d="M395.40 35.00 L395.40 35.00 L395.60 35.00 L395.60 40.00 L396.50 40.00 L396.50 51.50 L397.80 51.50 L397.80 63.50 L399.50 63.50 L399.50 70.43 L400.20 70.43 L400.20 75.93 L402.20 75.93 L402.20 80.91 L402.60 80.91 L402.60 83.41 L403.30 83.41 L403.30 90.55 L405.00 90.55 L405.00 101.65 L407.20 101.65 L407.20 107.48 L407.40 107.48 L407.40 109.88 L408.90 109.88 L408.90 113.37 L409.80 113.37 L409.80 116.72 L411.10 116.72 L411.10 120.48 L412.20 120.48 L412.20 123.23 L412.80 123.23 L412.80 126.04 L414.60 126.04 L414.60 128.29 L415.00 128.29 L415.00 129.03 L417.00 129.03 L417.00 129.58 L418.30 129.58 L418.30 131.22 L419.40 131.22 L419.40 133.42 L420.00 133.42 L420.00 134.60 L420.60 134.60 L420.60 137.20 L421.70 137.20 L421.70 139.45 L421.80 139.45 L421.80 140.30 L423.30 140.30 L423.30 141.18 L424.20 141.18 L424.20 141.47 L426.60 141.47 L426.60 141.69 L426.70 141.69 L426.70 143.90 L427.20 143.90 L427.20 147.75 L428.30 147.75 L428.30 150.99 L429.00 150.99 L429.00 153.49 L429.40 153.49 L429.40 154.40 L431.40 154.40 L431.40 154.40 L433.80 154.40 L433.80 154.40 L436.20 154.40 L436.20 154.40 L438.60 154.40 L438.60 154.40 L441.00 154.40 L441.00 154.40 L443.40 154.40 L443.40 154.40 L445.00 154.40 L445.00 155.80 L445.60 155.80 L445.60 157.22 L445.80 157.22 L445.80 157.45 L448.20 157.45 L448.20 157.74 L448.90 157.74 L448.90 159.85 L449.50 159.85 L449.50 162.22 L450.60 162.22 L450.60 163.17 L452.80 163.17 L452.80 164.01 L453.00 164.01 L453.00 165.96 L454.70 165.96 L454.70 167.75 L455.40 167.75 L455.40 167.96 L457.80 167.96 L457.80 168.26 L459.90 168.26 L459.90 169.51 L460.20 169.51 L460.20 172.11 L460.60 172.11 L460.60 175.50 L461.90 175.50 L461.90 178.91 L462.60 178.91 L462.60 181.71 L463.20 181.71 L463.20 184.05 L465.00 184.05 L465.00 185.45 L465.60 185.45 L465.60 185.80 L467.40 185.80 L467.40 185.80 L469.80 185.80 L469.80 185.80 L472.20 185.80 L472.20 185.80 L474.60 185.80 L474.60 185.80 L477.00 185.80 L477.00 185.80 L479.40 185.80 L479.40 185.80 L480.10 185.80 L480.10 187.25 L481.10 187.25 L481.10 189.19 L481.80 189.19 L481.80 191.09 L483.80 191.09 L483.80 192.54 L484.20 192.54 L484.20 192.80 L486.60 192.80 L486.60 193.26 L489.00 193.26 L489.00 193.72 L491.40 193.72 L491.40 194.17 L493.80 194.17 L493.80 194.63 L496.20 194.63 L496.20 195.09 L498.60 195.09 L498.60 195.54 L501.00 195.54 L501.00 196.00 L503.40 196.00 L503.40 196.46 L505.80 196.46 L505.80 196.91 L508.20 196.91 L508.20 197.37 L510.60 197.37 L510.60 197.67 L513.00 197.67 L513.00 197.82 L515.40 197.82 L515.40 197.97 L517.80 197.97 L517.80 198.11 L520.20 198.11 L520.20 198.26 L522.60 198.26 L522.60 198.41 L525.00 198.41 L525.00 198.55 L527.40 198.55 L527.40 198.70 L529.80 198.70 L529.80 198.85 L532.20 198.85 L532.20 198.99 L534.60 198.99 L534.60 199.14 L537.00 199.14 L537.00 199.29 L539.40 199.29 L539.40 199.43 L541.80 199.43 L541.80 199.58 L544.20 199.58 L544.20 199.73 L546.60 199.73 L546.60 199.88 L549.00 199.88 L549.00 200.02 L551.40 200.02 L551.40 200.17 L553.80 200.17 L553.80 200.32 L556.20 200.32 L556.20 200.46 L558.60 200.46 L558.60 200.61 L561.00 200.61 L561.00 200.76 L563.40 200.76 L563.40 200.90 L565.80 200.90 L565.80 201.05 L568.20 201.05 L568.20 201.20 L570.60 201.20 L570.60 201.28 L571.10 201.28 L571.10 201.30 L573.00 201.30 L573.00 201.30 L575.40 201.30 L575.40 201.30 L577.80 201.30 L577.80 201.30 L580.20 201.30 L580.20 201.30 L582.60 201.30 L582.60 201.30 L585.00 201.30 L585.00 201.30 L587.40 201.30 L587.40 201.30 L589.80 201.30 L589.80 201.30 L591.10 201.30 L591.10 228.50 L589.80 228.50 L589.80 228.50 L587.40 228.50 L587.40 228.50 L585.00 228.50 L585.00 228.50 L582.60 228.50 L582.60 228.50 L580.20 228.50 L580.20 228.50 L577.80 228.50 L577.80 228.50 L575.40 228.50 L575.40 228.50 L573.00 228.50 L573.00 228.50 L571.10 228.50 L571.10 228.48 L570.60 228.48 L570.60 228.36 L568.20 228.36 L568.20 228.16 L565.80 228.16 L565.80 227.96 L563.40 227.96 L563.40 227.76 L561.00 227.76 L561.00 227.57 L558.60 227.57 L558.60 227.37 L556.20 227.37 L556.20 227.17 L553.80 227.17 L553.80 226.97 L551.40 226.97 L551.40 226.77 L549.00 226.77 L549.00 226.57 L546.60 226.57 L546.60 226.38 L544.20 226.38 L544.20 226.18 L541.80 226.18 L541.80 225.98 L539.40 225.98 L539.40 225.78 L537.00 225.78 L537.00 225.58 L534.60 225.58 L534.60 225.38 L532.20 225.38 L532.20 225.19 L529.80 225.19 L529.80 224.99 L527.40 224.99 L527.40 224.79 L525.00 224.79 L525.00 224.59 L522.60 224.59 L522.60 224.39 L520.20 224.39 L520.20 224.19 L517.80 224.19 L517.80 224.00 L515.40 224.00 L515.40 223.80 L513.00 223.80 L513.00 223.60 L510.60 223.60 L510.60 223.36 L508.20 223.36 L508.20 223.07 L505.80 223.07 L505.80 222.78 L503.40 222.78 L503.40 222.50 L501.00 222.50 L501.00 222.21 L498.60 222.21 L498.60 221.92 L496.20 221.92 L496.20 221.64 L493.80 221.64 L493.80 221.35 L491.40 221.35 L491.40 221.06 L489.00 221.06 L489.00 220.78 L486.60 220.78 L486.60 220.49 L484.20 220.49 L484.20 220.32 L483.80 220.32 L483.80 219.63 L481.80 219.63 L481.80 218.73 L481.10 218.73 L481.10 216.88 L479.40 216.88 L479.40 214.98 L479.10 214.98 L479.10 214.70 L477.00 214.70 L477.00 214.70 L474.60 214.70 L474.60 214.70 L472.20 214.70 L472.20 214.70 L469.80 214.70 L469.80 214.70 L467.40 214.70 L467.40 214.70 L465.00 214.70 L465.00 214.70 L463.70 214.70 L463.70 213.96 L462.60 213.96 L462.60 212.01 L460.80 212.01 L460.80 210.41 L460.20 210.41 L460.20 208.51 L457.90 208.51 L457.90 206.94 L457.80 206.94 L457.80 205.36 L455.40 205.36 L455.40 203.02 L454.10 203.02 L454.10 201.65 L453.00 201.65 L453.00 199.90 L450.60 199.90 L450.60 198.50 L450.20 198.50 L450.20 195.90 L448.30 195.90 L448.30 193.45 L448.20 193.45 L448.20 192.20 L445.80 192.20 L445.80 190.80 L445.40 190.80 L445.40 190.59 L443.40 190.59 L443.40 190.56 L441.00 190.56 L441.00 190.53 L438.60 190.53 L438.60 190.50 L436.20 190.50 L436.20 190.47 L433.80 190.47 L433.80 190.44 L431.40 190.44 L431.40 190.41 L429.40 190.41 L429.40 190.13 L429.00 190.13 L429.00 188.83 L427.50 188.83 L427.50 186.57 L426.60 186.57 L426.60 183.97 L425.60 183.97 L425.60 181.77 L424.20 181.77 L424.20 179.82 L422.30 179.82 L422.30 178.21 L421.80 178.21 L421.80 175.66 L419.70 175.66 L419.70 173.37 L419.40 173.37 L419.40 171.42 L417.10 171.42 L417.10 169.64 L417.00 169.64 L417.00 168.12 L414.60 168.12 L414.60 166.23 L413.90 166.23 L413.90 164.22 L412.20 164.22 L412.20 162.17 L411.70 162.17 L411.70 161.15 L411.30 161.15 L411.30 158.35 L410.00 158.35 L410.00 155.71 L409.80 155.71 L409.80 152.36 L408.30 152.36 L408.30 147.23 L407.40 147.23 L407.40 143.38 L406.70 143.38 L406.70 139.35 L405.50 139.35 L405.50 135.60 L405.00 135.60 L405.00 130.90 L403.30 130.90 L403.30 125.65 L402.60 125.65 L402.60 121.20 L401.70 121.20 L401.70 115.35 L400.60 115.35 L400.60 110.40 L400.20 110.40 L400.20 108.00 L400.00 108.00 L400.00 101.65 L398.30 101.65 L398.30 93.32 L397.80 93.32 L397.80 87.78 L397.30 87.78 L397.30 82.50 L397.20 82.50 L397.20 74.50 L396.50 74.50 L396.50 63.50 L395.60 63.50 L395.60 50.00 L395.40 50.00 L395.40 42.00Z" fill="rgb(211,111,0)" fill-opacity="0.25" stroke="rgb(211,111,0)" stroke-opacity="0.17" stroke-width="0.8"/>
<path d="M395.40 24.30 L395.40 24.30 L397.80 24.30 L397.80 24.30 L400.20 24.30 L400.20 24.30 L402.60 24.30 L402.60 24.30 L404.00 24.30 L404.00 24.31 L405.00 24.31 L405.00 24.36 L407.40 24.36 L407.40 24.43 L409.80 24.43 L409.80 24.48 L411.00 24.48 L411.00 24.72 L412.20 24.72 L412.20 25.36 L414.60 25.36 L414.60 26.23 L417.00 26.23 L417.00 26.93 L418.50 26.93 L418.50 27.38 L419.40 27.38 L419.40 28.04 L421.80 28.04 L421.80 28.76 L423.00 28.76 L423.00 29.26 L424.20 29.26 L424.20 30.05 L426.60 30.05 L426.60 30.84 L427.80 30.84 L427.80 31.40 L429.00 31.40 L429.00 32.30 L431.40 32.30 L431.40 33.05 L432.00 33.05 L432.00 33.65 L433.80 33.65 L433.80 34.70 L436.20 34.70 L436.20 35.50 L437.00 35.50 L437.00 36.27 L438.60 36.27 L438.60 37.52 L440.50 37.52 L440.50 38.38 L441.00 38.38 L441.00 39.42 L443.40 39.42 L443.40 40.64 L444.40 40.64 L444.40 41.54 L445.80 41.54 L445.80 42.54 L447.00 42.54 L447.00 43.58 L448.20 43.58 L448.20 45.03 L450.00 45.03 L450.00 46.11 L450.60 46.11 L450.60 47.16 L453.00 47.16 L453.00 49.15 L455.40 49.15 L455.40 50.40 L455.60 50.40 L455.60 51.48 L457.80 51.48 L457.80 53.13 L459.30 53.13 L459.30 54.06 L460.20 54.06 L460.20 54.91 L462.20 54.91 L462.20 55.66 L462.60 55.66 L462.60 56.81 L465.00 56.81 L465.00 58.88 L467.40 58.88 L467.40 60.23 L468.00 60.23 L468.00 61.40 L469.80 61.40 L469.80 63.40 L472.00 63.40 L472.00 64.60 L472.20 64.60 L472.20 65.94 L474.60 65.94 L474.60 67.59 L475.40 67.59 L475.40 68.77 L477.00 68.77 L477.00 70.02 L478.00 70.02 L478.00 71.01 L479.40 71.01 L479.40 72.06 L480.90 72.06 L480.90 72.95 L481.80 72.95 L481.80 74.15 L484.00 74.15 L484.00 75.06 L484.20 75.06 L484.20 75.91 L486.60 75.91 L486.60 76.94 L487.40 76.94 L487.40 78.06 L489.00 78.06 L489.00 79.46 L490.00 79.46 L490.00 80.98 L491.40 80.98 L491.40 82.38 L492.00 82.38 L492.00 83.61 L493.80 83.61 L493.80 84.96 L495.00 84.96 L495.00 85.90 L496.20 85.90 L496.20 86.90 L498.00 86.90 L498.00 87.49 L498.60 87.49 L498.60 87.44 L500.70 87.44 L500.70 87.50 L501.00 87.50 L501.00 88.41 L503.40 88.41 L503.40 89.76 L505.00 89.76 L505.00 90.56 L505.80 90.56 L505.80 91.60 L508.20 91.60 L508.20 92.84 L509.60 92.84 L509.60 93.62 L510.60 93.62 L510.60 94.72 L513.00 94.72 L513.00 96.16 L515.40 96.16 L515.40 97.31 L517.20 97.31 L517.20 98.14 L517.80 98.14 L517.80 99.74 L520.00 99.74 L520.00 101.11 L520.20 101.11 L520.20 102.58 L522.60 102.58 L522.60 104.67 L523.90 104.67 L523.90 105.82 L525.00 105.82 L525.00 106.92 L526.80 106.92 L526.80 107.82 L527.40 107.82 L527.40 108.92 L529.80 108.92 L529.80 110.68 L532.20 110.68 L532.20 111.78 L532.80 111.78 L532.80 112.68 L534.60 112.68 L534.60 113.78 L535.70 113.78 L535.70 114.78 L537.00 114.78 L537.00 116.08 L538.60 116.08 L538.60 117.15 L539.40 117.15 L539.40 118.45 L541.60 118.45 L541.60 119.55 L541.80 119.55 L541.80 121.45 L544.20 121.45 L544.20 123.51 L544.60 123.51 L544.60 126.40 L546.00 126.40 L546.00 131.25 L546.60 131.25 L546.60 134.25 L546.80 134.25 L546.80 136.10 L549.00 136.10 L549.00 137.60 L549.80 137.60 L549.80 139.37 L551.40 139.37 L551.40 141.77 L552.60 141.77 L552.60 142.80 L553.80 142.80 L553.80 142.80 L556.20 142.80 L556.20 142.80 L558.60 142.80 L558.60 142.80 L561.00 142.80 L561.00 142.80 L563.40 142.80 L563.40 142.80 L565.80 142.80 L565.80 142.80 L568.20 142.80 L568.20 142.80 L570.60 142.80 L570.60 142.80 L573.00 142.80 L573.00 142.80 L575.40 142.80 L575.40 142.80 L577.80 142.80 L577.80 142.80 L580.20 142.80 L580.20 142.80 L582.60 142.80 L582.60 142.80 L585.00 142.80 L585.00 142.80 L587.40 142.80 L587.40 142.80 L589.80 142.80 L589.80 142.80 L592.20 142.80 L592.20 142.80 L594.60 142.80 L594.60 142.80 L597.00 142.80 L597.00 142.80 L599.40 142.80 L599.40 142.80 L601.80 142.80 L601.80 142.80 L604.20 142.80 L604.20 142.80 L606.60 142.80 L606.60 142.80 L609.00 142.80 L609.00 142.80 L611.40 142.80 L611.40 142.80 L613.80 142.80 L613.80 142.80 L616.20 142.80 L616.20 142.80 L618.60 142.80 L618.60 142.80 L621.00 142.80 L621.00 142.80 L623.40 142.80 L623.40 142.80 L625.80 142.80 L625.80 142.80 L628.20 142.80 L628.20 142.80 L630.60 142.80 L630.60 142.80 L633.00 142.80 L633.00 142.80 L633.70 142.80 L633.70 187.30 L633.00 187.30 L633.00 187.30 L630.60 187.30 L630.60 187.30 L628.20 187.30 L628.20 187.30 L625.80 187.30 L625.80 187.30 L623.40 187.30 L623.40 187.30 L621.00 187.30 L621.00 187.30 L618.60 187.30 L618.60 187.30 L616.20 187.30 L616.20 187.30 L613.80 187.30 L613.80 187.30 L611.40 187.30 L611.40 187.30 L609.00 187.30 L609.00 187.30 L606.60 187.30 L606.60 187.30 L604.20 187.30 L604.20 187.30 L601.80 187.30 L601.80 187.30 L599.40 187.30 L599.40 187.30 L597.00 187.30 L597.00 187.30 L594.60 187.30 L594.60 187.30 L592.20 187.30 L592.20 187.30 L589.80 187.30 L589.80 187.30 L587.40 187.30 L587.40 187.30 L585.00 187.30 L585.00 187.30 L582.60 187.30 L582.60 187.30 L580.20 187.30 L580.20 187.30 L577.80 187.30 L577.80 187.30 L575.40 187.30 L575.40 187.30 L573.00 187.30 L573.00 187.30 L570.60 187.30 L570.60 187.30 L568.20 187.30 L568.20 187.30 L565.80 187.30 L565.80 187.30 L563.40 187.30 L563.40 187.30 L561.00 187.30 L561.00 187.30 L558.60 187.30 L558.60 187.30 L556.20 187.30 L556.20 187.30 L553.80 187.30 L553.80 187.30 L552.40 187.30 L552.40 186.59 L551.40 186.59 L551.40 184.24 L549.10 184.24 L549.10 182.50 L549.00 182.50 L549.00 180.65 L547.20 180.65 L547.20 178.13 L546.60 178.13 L546.60 175.83 L545.40 175.83 L545.40 171.05 L544.40 171.05 L544.40 167.41 L544.20 167.41 L544.20 163.91 L542.60 163.91 L542.60 160.34 L541.80 160.34 L541.80 158.74 L539.80 158.74 L539.80 157.39 L539.40 157.39 L539.40 155.92 L537.00 155.92 L537.00 154.08 L535.90 154.08 L535.90 152.76 L534.60 152.76 L534.60 150.66 L532.20 150.66 L532.20 148.10 L529.80 148.10 L529.80 146.25 L528.50 146.25 L528.50 145.05 L527.40 145.05 L527.40 143.30 L525.00 143.30 L525.00 142.00 L524.80 142.00 L524.80 140.34 L522.60 140.34 L522.60 137.64 L521.00 137.64 L521.00 135.90 L520.20 135.90 L520.20 134.40 L519.00 134.40 L519.00 132.44 L517.80 132.44 L517.80 130.94 L517.30 130.94 L517.30 129.48 L515.40 129.48 L515.40 127.98 L514.50 127.98 L514.50 126.56 L513.00 126.56 L513.00 124.81 L511.70 124.81 L511.70 123.49 L510.60 123.49 L510.60 122.24 L509.00 122.24 L509.00 121.22 L508.20 121.22 L508.20 120.22 L506.10 120.22 L506.10 119.40 L505.80 119.40 L505.80 118.53 L503.40 118.53 L503.40 117.63 L503.00 117.63 L503.00 116.71 L501.00 116.71 L501.00 115.76 L500.60 115.76 L500.60 114.41 L498.60 114.41 L498.60 112.86 L498.00 112.86 L498.00 111.48 L496.20 111.48 L496.20 109.78 L495.00 109.78 L495.00 108.85 L493.80 108.85 L493.80 108.09 L491.40 108.09 L491.40 107.29 L490.00 107.29 L490.00 106.73 L489.00 106.73 L489.00 105.82 L486.60 105.82 L486.60 104.64 L484.60 104.64 L484.60 103.58 L484.20 103.58 L484.20 101.23 L482.80 101.23 L482.80 98.66 L481.80 98.66 L481.80 96.13 L479.40 96.13 L479.40 94.12 L479.10 94.12 L479.10 92.59 L477.00 92.59 L477.00 90.29 L475.40 90.29 L475.40 88.79 L474.60 88.79 L474.60 86.76 L472.20 86.76 L472.20 84.92 L471.70 84.92 L471.70 83.69 L469.80 83.69 L469.80 82.39 L469.00 82.39 L469.00 81.31 L467.40 81.31 L467.40 80.06 L466.10 80.06 L466.10 79.23 L465.00 79.23 L465.00 78.37 L462.60 78.37 L462.60 77.39 L461.00 77.39 L461.00 76.76 L460.20 76.76 L460.20 76.01 L458.50 76.01 L458.50 74.80 L457.80 74.80 L457.80 72.80 L456.50 72.80 L456.50 69.56 L455.40 69.56 L455.40 66.56 L454.80 66.56 L454.80 63.48 L453.00 63.48 L453.00 60.23 L451.90 60.23 L451.90 58.35 L450.60 58.35 L450.60 56.50 L448.20 56.50 L448.20 54.90 L447.40 54.90 L447.40 53.77 L445.80 53.77 L445.80 52.67 L445.00 52.67 L445.00 51.40 L443.40 51.40 L443.40 50.05 L442.60 50.05 L442.60 48.95 L441.00 48.95 L441.00 47.90 L440.00 47.90 L440.00 46.92 L438.60 46.92 L438.60 45.67 L437.00 45.67 L437.00 44.73 L436.20 44.73 L436.20 43.73 L434.00 43.73 L434.00 42.93 L433.80 42.93 L433.80 42.03 L431.50 42.03 L431.50 41.17 L431.40 41.17 L431.40 40.38 L429.00 40.38 L429.00 39.46 L428.50 39.46 L428.50 38.61 L426.60 38.61 L426.60 37.66 L425.90 37.66 L425.90 36.96 L424.20 36.96 L424.20 35.96 L422.00 35.96 L422.00 35.34 L421.80 35.34 L421.80 34.52 L419.40 34.52 L419.40 33.48 L418.50 33.48 L418.50 32.62 L417.00 32.62 L417.00 31.27 L415.00 31.27 L415.00 30.31 L414.60 30.31 L414.60 28.98 L412.20 28.98 L412.20 27.27 L411.00 27.27 L411.00 26.52 L409.80 26.52 L409.80 26.07 L408.00 26.07 L408.00 25.74 L407.40 25.74 L407.40 25.44 L405.00 25.44 L405.00 25.10 L404.00 25.10 L404.00 24.98 L402.60 24.98 L402.60 24.94 L400.20 24.94 L400.20 24.88 L397.80 24.88 L397.80 24.83 L395.40 24.83 L395.40 24.80Z" fill="rgb(63,203,83)" fill-opacity="0.25" stroke="rgb(63,203,83)" stroke-opacity="0.17" stroke-width="0.8"/>
<path d="M395.40 34.80 L395.40 35.80 L396.80 35.80 L396.80 37.43 L397.80 37.43 L397.80 38.38 L398.30 38.38 L398.30 38.97 L400.20 38.97 L400.20 39.57 L402.60 39.57 L402.60 40.25 L405.00 40.25 L405.00 40.74 L406.10 40.74 L406.10 41.02 L407.40 41.02 L407.40 41.38 L409.80 41.38 L409.80 41.84 L412.20 41.84 L412.20 42.29 L414.60 42.29 L414.60 42.56 L415.00 42.56 L415.00 43.60 L417.00 43.60 L417.00 44.70 L417.20 44.70 L417.20 44.96 L419.40 44.96 L419.40 45.29 L421.80 45.29 L421.80 45.64 L424.20 45.64 L424.20 45.98 L426.60 45.98 L426.60 46.28 L428.30 46.28 L428.30 46.45 L429.00 46.45 L429.00 46.68 L431.40 46.68 L431.40 47.04 L433.80 47.04 L433.80 47.31 L435.00 47.31 L435.00 47.45 L436.20 47.45 L436.20 47.59 L438.60 47.59 L438.60 47.74 L440.00 47.74 L440.00 47.82 L441.00 47.82 L441.00 47.89 L443.40 47.89 L443.40 47.98 L445.80 47.98 L445.80 48.08 L448.20 48.08 L448.20 48.16 L450.00 48.16 L450.00 48.21 L450.60 48.21 L450.60 48.27 L453.00 48.27 L453.00 48.36 L455.00 48.36 L455.00 48.43 L455.40 48.43 L455.40 48.66 L457.80 48.66 L457.80 49.04 L460.20 49.04 L460.20 49.42 L462.60 49.42 L462.60 49.81 L465.00 49.81 L465.00 50.23 L467.40 50.23 L467.40 50.70 L469.80 50.70 L469.80 51.12 L471.70 51.12 L471.70 51.33 L472.20 51.33 L472.20 51.48 L474.60 51.48 L474.60 51.72 L477.00 51.72 L477.00 51.97 L479.40 51.97 L479.40 52.22 L481.80 52.22 L481.80 52.42 L483.30 52.42 L483.30 52.55 L484.20 52.55 L484.20 52.75 L486.60 52.75 L486.60 53.04 L489.00 53.04 L489.00 53.33 L491.40 53.33 L491.40 53.59 L493.30 53.59 L493.30 53.76 L493.80 53.76 L493.80 54.07 L496.20 54.07 L496.20 54.60 L498.60 54.60 L498.60 54.93 L499.20 54.93 L499.20 55.00 L501.00 55.00 L501.00 55.00 L503.40 55.00 L503.40 55.00 L505.80 55.00 L505.80 55.00 L508.20 55.00 L508.20 55.00 L510.60 55.00 L510.60 55.00 L513.00 55.00 L513.00 55.00 L515.40 55.00 L515.40 55.00 L517.80 55.00 L517.80 55.00 L520.20 55.00 L520.20 55.00 L522.60 55.00 L522.60 55.00 L525.00 55.00 L525.00 55.00 L527.40 55.00 L527.40 55.00 L529.80 55.00 L529.80 55.00 L532.20 55.00 L532.20 55.00 L534.60 55.00 L534.60 55.00 L537.00 55.00 L537.00 55.00 L539.40 55.00 L539.40 55.00 L541.80 55.00 L541.80 55.00 L544.20 55.00 L544.20 55.00 L546.60 55.00 L546.60 55.00 L549.00 55.00 L549.00 55.00 L551.40 55.00 L551.40 55.00 L553.30 55.00 L553.30 55.40 L553.31 55.40 L553.31 55.80 L553.80 55.80 L553.80 55.80 L556.20 55.80 L556.20 55.80 L558.60 55.80 L558.60 55.80 L561.00 55.80 L561.00 55.80 L563.40 55.80 L563.40 55.80 L565.00 55.80 L565.00 56.90 L565.01 56.90 L565.01 58.00 L565.80 58.00 L565.80 58.00 L568.20 58.00 L568.20 58.00 L570.60 58.00 L570.60 58.00 L572.50 58.00 L572.50 59.00 L572.51 59.00 L572.51 60.00 L573.00 60.00 L573.00 60.00 L575.40 60.00 L575.40 60.00 L577.80 60.00 L577.80 60.00 L580.20 60.00 L580.20 60.00 L582.60 60.00 L582.60 60.00 L585.00 60.00 L585.00 60.00 L587.40 60.00 L587.40 60.00 L589.80 60.00 L589.80 60.00 L592.20 60.00 L592.20 60.00 L594.60 60.00 L594.60 60.00 L597.00 60.00 L597.00 60.00 L599.40 60.00 L599.40 60.00 L601.80 60.00 L601.80 60.00 L603.20 60.00 L603.20 61.60 L603.21 61.60 L603.21 63.20 L604.20 63.20 L604.20 63.20 L606.60 63.20 L606.60 63.20 L609.00 63.20 L609.00 63.20 L611.40 63.20 L611.40 63.20 L613.80 63.20 L613.80 63.20 L616.20 63.20 L616.20 63.20 L618.60 63.20 L618.60 63.20 L621.00 63.20 L621.00 63.20 L623.40 63.20 L623.40 63.20 L625.80 63.20 L625.80 63.20 L628.20 63.20 L628.20 63.20 L630.60 63.20 L630.60 63.20 L633.00 63.20 L633.00 63.20 L635.40 63.20 L635.40 63.20 L637.80 63.20 L637.80 63.20 L640.20 63.20 L640.20 63.20 L642.60 63.20 L642.60 63.20 L645.00 63.20 L645.00 63.20 L647.40 63.20 L647.40 63.20 L649.80 63.20 L649.80 63.20 L652.20 63.20 L652.20 63.20 L654.60 63.20 L654.60 63.20 L657.00 63.20 L657.00 63.20 L659.40 63.20 L659.40 63.20 L661.80 63.20 L661.80 63.20 L664.20 63.20 L664.20 63.20 L666.60 63.20 L666.60 63.20 L669.00 63.20 L669.00 63.20 L669.80 63.20 L669.80 122.00 L669.00 122.00 L669.00 122.00 L666.60 122.00 L666.60 122.00 L664.20 122.00 L664.20 122.00 L661.80 122.00 L661.80 122.00 L659.40 122.00 L659.40 122.00 L657.00 122.00 L657.00 122.00 L654.60 122.00 L654.60 122.00 L652.20 122.00 L652.20 122.00 L649.80 122.00 L649.80 122.00 L647.40 122.00 L647.40 122.00 L645.00 122.00 L645.00 122.00 L642.60 122.00 L642.60 122.00 L640.20 122.00 L640.20 122.00 L637.80 122.00 L637.80 122.00 L635.40 122.00 L635.40 122.00 L633.00 122.00 L633.00 122.00 L630.60 122.00 L630.60 122.00 L628.20 122.00 L628.20 122.00 L625.80 122.00 L625.80 122.00 L623.40 122.00 L623.40 122.00 L621.00 122.00 L621.00 122.00 L618.60 122.00 L618.60 122.00 L616.20 122.00 L616.20 122.00 L613.80 122.00 L613.80 122.00 L611.40 122.00 L611.40 122.00 L609.00 122.00 L609.00 122.00 L606.60 122.00 L606.60 122.00 L604.20 122.00 L604.20 122.00 L603.21 122.00 L603.21 105.45 L603.20 105.45 L603.20 88.90 L601.80 88.90 L601.80 88.90 L599.40 88.90 L599.40 88.90 L597.00 88.90 L597.00 88.90 L594.60 88.90 L594.60 88.90 L592.20 88.90 L592.20 88.90 L589.80 88.90 L589.80 88.90 L587.40 88.90 L587.40 88.90 L585.00 88.90 L585.00 88.90 L582.60 88.90 L582.60 88.90 L580.20 88.90 L580.20 88.90 L577.80 88.90 L577.80 88.90 L575.40 88.90 L575.40 88.90 L573.00 88.90 L573.00 88.90 L572.51 88.90 L572.51 85.55 L572.50 85.55 L572.50 82.20 L570.60 82.20 L570.60 82.20 L568.20 82.20 L568.20 82.20 L565.80 82.20 L565.80 82.20 L565.01 82.20 L565.01 78.85 L565.00 78.85 L565.00 75.50 L563.40 75.50 L563.40 75.50 L561.00 75.50 L561.00 75.50 L558.60 75.50 L558.60 75.50 L556.20 75.50 L556.20 75.50 L553.80 75.50 L553.80 75.50 L553.31 75.50 L553.31 74.40 L553.30 74.40 L553.30 73.30 L551.40 73.30 L551.40 73.30 L549.00 73.30 L549.00 73.30 L546.60 73.30 L546.60 73.30 L544.20 73.30 L544.20 73.30 L541.80 73.30 L541.80 73.30 L541.21 73.30 L541.21 72.05 L541.20 72.05 L541.20 70.80 L539.40 70.80 L539.40 70.80 L537.00 70.80 L537.00 70.80 L534.60 70.80 L534.60 70.80 L532.20 70.80 L532.20 70.80 L529.80 70.80 L529.80 70.80 L527.40 70.80 L527.40 70.80 L525.00 70.80 L525.00 70.80 L522.60 70.80 L522.60 70.80 L520.20 70.80 L520.20 70.80 L517.80 70.80 L517.80 70.80 L515.40 70.80 L515.40 70.80 L513.00 70.80 L513.00 70.80 L510.60 70.80 L510.60 70.80 L508.20 70.80 L508.20 70.80 L505.80 70.80 L505.80 70.80 L503.40 70.80 L503.40 70.80 L501.00 70.80 L501.00 70.80 L499.20 70.80 L499.20 70.46 L498.60 70.46 L498.60 68.79 L496.20 68.79 L496.20 66.10 L493.80 66.10 L493.80 64.48 L493.30 64.48 L493.30 63.98 L491.40 63.98 L491.40 63.49 L489.00 63.49 L489.00 62.94 L486.60 62.94 L486.60 62.38 L484.20 62.38 L484.20 62.00 L483.30 62.00 L483.30 61.79 L481.80 61.79 L481.80 61.50 L479.40 61.50 L479.40 61.15 L477.00 61.15 L477.00 60.80 L474.60 60.80 L474.60 60.45 L472.20 60.45 L472.20 60.24 L471.70 60.24 L471.70 60.07 L469.80 60.07 L469.80 59.78 L467.40 59.78 L467.40 59.46 L465.00 59.46 L465.00 59.20 L462.60 59.20 L462.60 59.01 L460.20 59.01 L460.20 58.91 L460.00 58.91 L460.00 58.86 L457.80 58.86 L457.80 58.76 L455.40 58.76 L455.40 58.67 L453.00 58.67 L453.00 58.57 L450.60 58.57 L450.60 58.51 L450.00 58.51 L450.00 58.47 L448.20 58.47 L448.20 58.41 L445.80 58.41 L445.80 58.34 L443.40 58.34 L443.40 58.27 L441.00 58.27 L441.00 58.22 L440.00 58.22 L440.00 58.14 L438.60 58.14 L438.60 57.99 L436.20 57.99 L436.20 57.85 L435.00 57.85 L435.00 57.63 L433.80 57.63 L433.80 57.12 L431.40 57.12 L431.40 56.44 L429.00 56.44 L429.00 56.00 L428.30 56.00 L428.30 55.65 L426.60 55.65 L426.60 55.04 L424.20 55.04 L424.20 54.32 L421.80 54.32 L421.80 53.61 L419.40 53.61 L419.40 52.93 L417.20 52.93 L417.20 52.50 L417.00 52.50 L417.00 51.35 L415.00 51.35 L415.00 50.26 L414.60 50.26 L414.60 50.01 L412.20 50.01 L412.20 49.58 L409.80 49.58 L409.80 49.15 L407.40 49.15 L407.40 48.82 L406.10 48.82 L406.10 48.54 L405.00 48.54 L405.00 48.02 L402.60 48.02 L402.60 47.31 L400.20 47.31 L400.20 46.68 L398.30 46.68 L398.30 46.08 L397.80 46.08 L397.80 45.13 L396.80 45.13 L396.80 43.50 L395.40 43.50 L395.40 42.50Z" fill="rgb(235,175,219)" fill-opacity="0.5" stroke="rgb(235,175,219)" stroke-opacity="0.35" stroke-width="0.8"/>
<path d="M395.40 25.20 L396.00 25.20 L396.00 25.90 L402.30 25.90 L402.30 27.00 L423.40 27.00 L423.40 27.70 L445.40 27.70 L445.40 29.20 L483.80 29.20 L483.80 32.10 L532.80 32.10 L532.80 37.20 L541.20 37.20 L541.20 42.20 L544.70 42.20 L544.70 47.50 L589.60 47.50 L589.60 64.20 L642.50 64.20" fill="none" stroke="rgb(35,122,188)" stroke-width="1.25" stroke-linejoin="miter"/>
<path d="M395.40 41.00 L395.40 45.50 L395.80 45.50 L395.80 54.00 L396.50 54.00 L396.50 63.55 L397.80 63.55 L397.80 74.65 L398.90 74.65 L398.90 82.60 L399.40 82.60 L399.40 86.50 L400.00 86.50 L400.00 88.54 L400.20 88.54 L400.20 91.49 L401.10 91.49 L401.10 98.31 L402.60 98.31 L402.60 103.31 L402.80 103.31 L402.80 108.35 L404.40 108.35 L404.40 113.84 L405.00 113.84 L405.00 116.79 L406.10 116.79 L406.10 122.10 L407.40 122.10 L407.40 126.55 L407.80 126.55 L407.80 130.90 L409.40 130.90 L409.40 134.67 L409.80 134.67 L409.80 136.07 L410.60 136.07 L410.60 138.20 L411.10 138.20 L411.10 140.86 L412.20 140.86 L412.20 143.11 L412.80 143.11 L412.80 146.10 L414.40 146.10 L414.40 148.33 L414.60 148.33 L414.60 148.75 L417.00 148.75 L417.00 149.27 L417.80 149.27 L417.80 150.24 L419.40 150.24 L419.40 151.39 L420.00 151.39 L420.00 153.90 L420.60 153.90 L420.60 157.56 L421.80 157.56 L421.80 159.51 L422.20 159.51 L422.20 160.15 L424.20 160.15 L424.20 160.45 L426.10 160.45 L426.10 161.32 L426.60 161.32 L426.60 162.62 L427.00 162.62 L427.00 166.45 L428.10 166.45 L428.10 170.95 L429.00 170.95 L429.00 172.75 L429.40 172.75 L429.40 173.30 L431.40 173.30 L431.40 173.30 L433.80 173.30 L433.80 173.30 L436.20 173.30 L436.20 173.30 L438.60 173.30 L438.60 173.30 L441.00 173.30 L441.00 173.30 L443.40 173.30 L443.40 173.30 L445.00 173.30 L445.00 174.40 L445.60 174.40 L445.60 175.50 L445.80 175.50 L445.80 175.50 L448.20 175.50 L448.20 175.50 L448.90 175.50 L448.90 178.40 L449.50 178.40 L449.50 181.39 L450.60 181.39 L450.60 181.68 L453.00 181.68 L453.00 181.89 L453.10 181.89 L453.10 183.35 L455.00 183.35 L455.00 184.90 L455.40 184.90 L455.40 185.58 L457.80 185.58 L457.80 186.43 L458.90 186.43 L458.90 189.60 L459.90 189.60 L459.90 192.81 L460.20 192.81 L460.20 194.76 L461.80 194.76 L461.80 197.01 L462.60 197.01 L462.60 198.46 L463.70 198.46 L463.70 200.46 L465.00 200.46 L465.00 202.16 L465.60 202.16 L465.60 202.70 L467.40 202.70 L467.40 202.70 L469.80 202.70 L469.80 202.70 L472.20 202.70 L472.20 202.70 L474.60 202.70 L474.60 202.70 L477.00 202.70 L477.00 202.70 L479.40 202.70 L479.40 202.70 L479.70 202.70 L479.70 204.10 L481.10 204.10 L481.10 205.98 L481.80 205.98 L481.80 207.83 L483.80 207.83 L483.80 209.20 L484.20 209.20 L484.20 209.20 L486.60 209.20 L486.60 209.20 L489.00 209.20 L489.00 209.20 L491.40 209.20 L491.40 209.20 L493.80 209.20 L493.80 209.20 L496.20 209.20 L496.20 209.20 L498.60 209.20 L498.60 209.20 L501.00 209.20 L501.00 209.20 L503.40 209.20 L503.40 209.20 L505.80 209.20 L505.80 209.20 L508.20 209.20 L508.20 209.20 L510.60 209.20 L510.60 211.25 L510.61 211.25 L510.61 213.30 L513.00 213.30 L513.00 213.30 L515.40 213.30 L515.40 213.30 L517.80 213.30 L517.80 213.30 L520.20 213.30 L520.20 213.30 L522.60 213.30 L522.60 213.30 L525.00 213.30 L525.00 213.30 L527.40 213.30 L527.40 213.30 L529.80 213.30 L529.80 213.30 L532.20 213.30 L532.20 213.30 L534.60 213.30 L534.60 213.30 L537.00 213.30 L537.00 213.30 L539.40 213.30 L539.40 213.30 L541.80 213.30 L541.80 213.30 L544.20 213.30 L544.20 213.30 L546.60 213.30 L546.60 213.30 L549.00 213.30 L549.00 213.30 L551.40 213.30 L551.40 213.30 L553.80 213.30 L553.80 213.30 L556.20 213.30 L556.20 213.30 L558.60 213.30 L558.60 213.30 L561.00 213.30 L561.00 213.30 L563.40 213.30 L563.40 213.30 L565.80 213.30 L565.80 213.30 L568.20 213.30 L568.20 213.30 L570.60 213.30 L570.60 213.30 L571.10 213.30 L571.10 217.50 L571.11 217.50 L571.11 221.70 L573.00 221.70 L573.00 221.70 L575.40 221.70 L575.40 221.70 L577.80 221.70 L577.80 221.70 L580.20 221.70 L580.20 221.70 L582.60 221.70 L582.60 221.70 L585.00 221.70 L585.00 221.70 L587.40 221.70 L587.40 221.70 L589.80 221.70 L589.80 221.70 L591.10 221.70" fill="none" stroke="rgb(240,124,30)" stroke-width="1.25" stroke-linejoin="miter"/>
<path d="M395.40 24.30 L395.40 24.31 L397.80 24.31 L397.80 24.34 L400.20 24.34 L400.20 24.37 L402.60 24.37 L402.60 24.39 L404.00 24.39 L404.00 24.47 L405.00 24.47 L405.00 24.57 L405.50 24.57 L405.50 24.85 L407.40 24.85 L407.40 25.25 L408.50 25.25 L408.50 25.55 L409.80 25.55 L409.80 26.00 L412.20 26.00 L412.20 26.34 L412.70 26.34 L412.70 27.12 L414.60 27.12 L414.60 27.92 L414.80 27.92 L414.80 28.27 L417.00 28.27 L417.00 28.77 L418.90 28.77 L418.90 29.08 L419.40 29.08 L419.40 29.54 L421.80 29.54 L421.80 30.11 L423.00 30.11 L423.00 30.71 L424.20 30.71 L424.20 31.56 L425.50 31.56 L425.50 32.45 L426.60 32.45 L426.60 33.40 L427.80 33.40 L427.80 34.24 L429.00 34.24 L429.00 35.25 L431.40 35.25 L431.40 36.46 L433.30 36.46 L433.30 37.16 L433.80 37.16 L433.80 38.09 L436.20 38.09 L436.20 39.64 L438.60 39.64 L438.60 40.50 L438.90 40.50 L438.90 41.48 L441.00 41.48 L441.00 43.36 L443.40 43.36 L443.40 44.78 L444.40 44.78 L444.40 46.00 L445.80 46.00 L445.80 48.19 L448.20 48.19 L448.20 50.08 L449.10 50.08 L449.10 51.50 L450.60 51.50 L450.60 53.83 L453.00 53.83 L453.00 55.68 L453.70 55.68 L453.70 57.30 L455.20 57.30 L455.20 58.75 L455.40 58.75 L455.40 60.35 L456.50 60.35 L456.50 63.00 L457.80 63.00 L457.80 66.27 L460.20 66.27 L460.20 68.57 L460.60 68.57 L460.60 69.39 L462.60 69.39 L462.60 70.29 L464.30 70.29 L464.30 70.96 L465.00 70.96 L465.00 72.14 L467.40 72.14 L467.40 73.27 L468.00 73.27 L468.00 74.18 L469.80 74.18 L469.80 75.58 L471.70 75.58 L471.70 76.42 L472.20 76.42 L472.20 77.13 L474.60 77.13 L474.60 77.91 L475.40 77.91 L475.40 78.71 L477.00 78.71 L477.00 80.11 L479.10 80.11 L479.10 81.21 L479.40 81.21 L479.40 83.06 L480.90 83.06 L480.90 85.36 L481.80 85.36 L481.80 87.71 L483.70 87.71 L483.70 89.36 L484.20 89.36 L484.20 89.71 L486.60 89.71 L486.60 90.10 L487.40 90.10 L487.40 90.71 L489.00 90.71 L489.00 91.61 L490.20 91.61 L490.20 92.79 L491.40 92.79 L491.40 94.64 L493.00 94.64 L493.00 96.25 L493.80 96.25 L493.80 98.10 L495.70 98.10 L495.70 99.60 L496.20 99.60 L496.20 100.76 L498.60 100.76 L498.60 101.96 L499.20 101.96 L499.20 102.85 L501.00 102.85 L501.00 104.00 L502.40 104.00 L502.40 104.89 L503.40 104.89 L503.40 105.94 L505.10 105.94 L505.10 106.65 L505.80 106.65 L505.80 106.88 L508.20 106.88 L508.20 107.18 L509.80 107.18 L509.80 107.61 L510.60 107.61 L510.60 108.71 L512.60 108.71 L512.60 109.66 L513.00 109.66 L513.00 110.81 L515.40 110.81 L515.40 113.44 L517.80 113.44 L517.80 115.29 L518.10 115.29 L518.10 116.40 L519.30 116.40 L519.30 117.79 L520.20 117.79 L520.20 119.57 L522.60 119.57 L522.60 121.08 L523.00 121.08 L523.00 122.19 L525.00 122.19 L525.00 123.84 L526.70 123.84 L526.70 124.82 L527.40 124.82 L527.40 125.80 L529.80 125.80 L529.80 127.03 L531.30 127.03 L531.30 128.07 L532.20 128.07 L532.20 129.92 L534.20 129.92 L534.20 131.40 L534.60 131.40 L534.60 132.80 L537.00 132.80 L537.00 134.10 L537.20 134.10 L537.20 135.39 L539.40 135.39 L539.40 136.69 L539.60 136.69 L539.60 137.86 L541.80 137.86 L541.80 139.21 L542.40 139.21 L542.40 141.60 L543.50 141.60 L543.50 145.49 L544.20 145.49 L544.20 147.79 L544.40 147.79 L544.40 150.15 L545.40 150.15 L545.40 153.85 L546.30 153.85 L546.30 155.86 L546.60 155.86 L546.60 156.81 L548.10 156.81 L548.10 158.86 L549.00 158.86 L549.00 160.26 L549.10 160.26 L549.10 162.00 L551.40 162.00 L551.40 164.30 L552.40 164.30 L552.40 165.00 L553.80 165.00 L553.80 165.00 L556.20 165.00 L556.20 165.00 L558.60 165.00 L558.60 165.00 L561.00 165.00 L561.00 165.00 L563.40 165.00 L563.40 165.00 L565.80 165.00 L565.80 165.00 L568.20 165.00 L568.20 165.00 L570.60 165.00 L570.60 165.00 L573.00 165.00 L573.00 165.00 L575.40 165.00 L575.40 165.00 L577.80 165.00 L577.80 165.00 L580.20 165.00 L580.20 165.00 L582.60 165.00 L582.60 165.00 L585.00 165.00 L585.00 165.00 L587.40 165.00 L587.40 165.00 L589.80 165.00 L589.80 165.00 L592.20 165.00 L592.20 165.00 L594.60 165.00 L594.60 165.00 L597.00 165.00 L597.00 165.00 L599.40 165.00 L599.40 165.00 L601.80 165.00 L601.80 165.00 L604.20 165.00 L604.20 165.00 L606.60 165.00 L606.60 165.00 L609.00 165.00 L609.00 165.00 L611.40 165.00 L611.40 165.00 L613.80 165.00 L613.80 165.00 L616.20 165.00 L616.20 165.00 L618.60 165.00 L618.60 165.00 L621.00 165.00 L621.00 165.00 L623.40 165.00 L623.40 165.00 L625.80 165.00 L625.80 165.00 L628.20 165.00 L628.20 165.00 L630.60 165.00 L630.60 165.00 L633.00 165.00 L633.00 165.00 L633.70 165.00" fill="none" stroke="rgb(55,188,62)" stroke-width="1.25" stroke-linejoin="miter"/>
<path d="M395.40 38.10 L395.40 39.15 L396.80 39.15 L396.80 40.80 L397.80 40.80 L397.80 41.70 L398.30 41.70 L398.30 42.48 L400.20 42.48 L400.20 43.33 L401.70 43.33 L401.70 43.81 L402.60 43.81 L402.60 44.23 L405.00 44.23 L405.00 44.66 L406.10 44.66 L406.10 44.93 L407.40 44.93 L407.40 45.29 L409.80 45.29 L409.80 45.71 L411.70 45.71 L411.70 45.94 L412.20 45.94 L412.20 46.16 L414.60 46.16 L414.60 46.37 L415.00 46.37 L415.00 46.95 L416.50 46.95 L416.50 47.93 L417.00 47.93 L417.00 48.53 L417.20 48.53 L417.20 49.09 L419.40 49.09 L419.40 49.89 L421.70 49.89 L421.70 50.31 L421.80 50.31 L421.80 50.52 L424.20 50.52 L424.20 50.92 L426.60 50.92 L426.60 51.26 L428.30 51.26 L428.30 51.46 L429.00 51.46 L429.00 51.74 L431.40 51.74 L431.40 52.17 L433.80 52.17 L433.80 52.49 L435.00 52.49 L435.00 52.64 L436.20 52.64 L436.20 52.74 L438.60 52.74 L438.60 52.86 L440.00 52.86 L440.00 52.91 L441.00 52.91 L441.00 52.93 L443.40 52.93 L443.40 52.97 L445.80 52.97 L445.80 53.00 L446.30 53.00 L446.30 53.03 L448.20 53.03 L448.20 53.11 L450.60 53.11 L450.60 53.18 L452.00 53.18 L452.00 53.23 L453.00 53.23 L453.00 53.32 L455.40 53.32 L455.40 53.39 L455.60 53.39 L455.60 53.74 L457.80 53.74 L457.80 54.19 L458.50 54.19 L458.50 54.49 L460.20 54.49 L460.20 54.84 L461.70 54.84 L461.70 55.04 L462.60 55.04 L462.60 55.20 L465.00 55.20 L465.00 55.43 L467.40 55.43 L467.40 55.67 L469.80 55.67 L469.80 55.79 L470.00 55.79 L470.00 56.40 L471.70 56.40 L471.70 57.02 L472.20 57.02 L472.20 57.17 L474.60 57.17 L474.60 57.41 L477.00 57.41 L477.00 57.65 L479.40 57.65 L479.40 57.88 L481.70 57.88 L481.70 58.01 L481.80 58.01 L481.80 58.13 L484.20 58.13 L484.20 58.38 L486.60 58.38 L486.60 58.63 L489.00 58.63 L489.00 58.88 L491.40 58.88 L491.40 59.10 L493.30 59.10 L493.30 59.31 L493.80 59.31 L493.80 59.98 L496.20 59.98 L496.20 61.08 L498.60 61.08 L498.60 61.76 L499.20 61.76 L499.20 61.90 L501.00 61.90 L501.00 61.90 L503.40 61.90 L503.40 61.90 L505.80 61.90 L505.80 61.90 L508.20 61.90 L508.20 61.90 L510.60 61.90 L510.60 61.90 L513.00 61.90 L513.00 61.90 L515.40 61.90 L515.40 61.90 L517.80 61.90 L517.80 61.90 L520.20 61.90 L520.20 61.90 L522.60 61.90 L522.60 61.90 L525.00 61.90 L525.00 61.90 L527.40 61.90 L527.40 61.90 L529.80 61.90 L529.80 61.90 L532.20 61.90 L532.20 61.90 L534.60 61.90 L534.60 61.90 L537.00 61.90 L537.00 61.90 L539.40 61.90 L539.40 61.90 L541.80 61.90 L541.80 61.90 L544.20 61.90 L544.20 61.90 L546.60 61.90 L546.60 61.90 L549.00 61.90 L549.00 61.90 L551.40 61.90 L551.40 61.90 L553.30 61.90 L553.30 63.60 L553.31 63.60 L553.31 65.30 L553.80 65.30 L553.80 65.30 L556.20 65.30 L556.20 65.30 L558.60 65.30 L558.60 65.30 L561.00 65.30 L561.00 65.30 L563.40 65.30 L563.40 65.30 L565.00 65.30 L565.00 67.25 L565.01 67.25 L565.01 69.20 L565.80 69.20 L565.80 69.20 L568.20 69.20 L568.20 69.20 L570.60 69.20 L570.60 69.20 L572.50 69.20 L572.50 71.40 L572.51 71.40 L572.51 73.60 L573.00 73.60 L573.00 73.60 L575.40 73.60 L575.40 73.60 L577.80 73.60 L577.80 73.60 L580.20 73.60 L580.20 73.60 L582.60 73.60 L582.60 73.60 L585.00 73.60 L585.00 73.60 L587.40 73.60 L587.40 73.60 L589.80 73.60 L589.80 73.60 L592.20 73.60 L592.20 73.60 L594.60 73.60 L594.60 73.60 L597.00 73.60 L597.00 73.60 L599.40 73.60 L599.40 73.60 L601.80 73.60 L601.80 73.60 L603.20 73.60 L603.20 80.50 L603.21 80.50 L603.21 87.40 L604.20 87.40 L604.20 87.40 L606.60 87.40 L606.60 87.40 L609.00 87.40 L609.00 87.40 L611.40 87.40 L611.40 87.40 L613.80 87.40 L613.80 87.40 L616.20 87.40 L616.20 87.40 L618.60 87.40 L618.60 87.40 L621.00 87.40 L621.00 87.40 L623.40 87.40 L623.40 87.40 L625.80 87.40 L625.80 87.40 L628.20 87.40 L628.20 87.40 L630.60 87.40 L630.60 87.40 L633.00 87.40 L633.00 87.40 L635.40 87.40 L635.40 87.40 L637.80 87.40 L637.80 87.40 L640.20 87.40 L640.20 87.40 L642.60 87.40 L642.60 87.40 L645.00 87.40 L645.00 87.40 L647.40 87.40 L647.40 87.40 L649.80 87.40 L649.80 87.40 L652.20 87.40 L652.20 87.40 L654.60 87.40 L654.60 87.40 L657.00 87.40 L657.00 87.40 L659.40 87.40 L659.40 87.40 L661.80 87.40 L661.80 87.40 L664.20 87.40 L664.20 87.40 L666.60 87.40 L666.60 87.40 L669.00 87.40 L669.00 87.40 L669.80 87.40" fill="none" stroke="rgb(238,108,198)" stroke-width="1.25" stroke-linejoin="miter"/>
<rect x="382.0" y="14.7" width="301.30" height="224.30" fill="none" stroke="#333" stroke-width="0.9"/>
<text x="395.40" y="252.50" font-size="10.0" text-anchor="middle" fill="#1a1a1a" stroke="#1a1a1a" stroke-width="0.04" >0</text>
<text x="440.70" y="252.50" font-size="10.0" text-anchor="middle" fill="#1a1a1a" stroke="#1a1a1a" stroke-width="0.04" >10</text>
<text x="486.00" y="252.50" font-size="10.0" text-anchor="middle" fill="#1a1a1a" stroke="#1a1a1a" stroke-width="0.04" >20</text>
<text x="531.30" y="252.50" font-size="10.0" text-anchor="middle" fill="#1a1a1a" stroke="#1a1a1a" stroke-width="0.04" >30</text>
<text x="576.60" y="252.50" font-size="10.0" text-anchor="middle" fill="#1a1a1a" stroke="#1a1a1a" stroke-width="0.04" >40</text>
<text x="621.90" y="252.50" font-size="10.0" text-anchor="middle" fill="#1a1a1a" stroke="#1a1a1a" stroke-width="0.04" >50</text>
<text x="667.20" y="252.50" font-size="10.0" text-anchor="middle" fill="#1a1a1a" stroke="#1a1a1a" stroke-width="0.04" >60</text>
<text x="375.60" y="233.20" font-size="9.8" text-anchor="end" textLength="12.60" lengthAdjust="spacingAndGlyphs" fill="#1a1a1a" stroke="#1a1a1a" stroke-width="0.04" >0.0</text>
<text x="375.60" y="192.16" font-size="9.8" text-anchor="end" textLength="12.60" lengthAdjust="spacingAndGlyphs" fill="#1a1a1a" stroke="#1a1a1a" stroke-width="0.04" >0.2</text>
<text x="375.60" y="151.12" font-size="9.8" text-anchor="end" textLength="12.60" lengthAdjust="spacingAndGlyphs" fill="#1a1a1a" stroke="#1a1a1a" stroke-width="0.04" >0.4</text>
<text x="375.60" y="110.08" font-size="9.8" text-anchor="end" textLength="12.60" lengthAdjust="spacingAndGlyphs" fill="#1a1a1a" stroke="#1a1a1a" stroke-width="0.04" >0.6</text>
<text x="375.60" y="69.04" font-size="9.8" text-anchor="end" textLength="12.60" lengthAdjust="spacingAndGlyphs" fill="#1a1a1a" stroke="#1a1a1a" stroke-width="0.04" >0.8</text>
<text x="375.60" y="28.00" font-size="9.8" text-anchor="end" textLength="12.60" lengthAdjust="spacingAndGlyphs" fill="#1a1a1a" stroke="#1a1a1a" stroke-width="0.04" >1.0</text>
<path d="M395.50 239.0v3.5 M440.50 239.0v3.5 M486.50 239.0v3.5 M531.50 239.0v3.5 M576.50 239.0v3.5 M621.50 239.0v3.5 M667.50 239.0v3.5 M382.0 230.50h-3.5 M382.0 188.50h-3.5 M382.0 147.50h-3.5 M382.0 106.50h-3.5 M382.0 65.50h-3.5 M382.0 24.50h-3.5" stroke="#333" stroke-width="0.9" fill="none"/>
<text x="503.40" y="266.00" font-size="10.9" text-anchor="start" textLength="62.50" lengthAdjust="spacingAndGlyphs" fill="#1a1a1a" stroke="#1a1a1a" stroke-width="0.04" >Time (years)</text>
<text x="0.00" y="0.00" font-size="10.9" text-anchor="start" textLength="99.40" lengthAdjust="spacingAndGlyphs" fill="#1a1a1a" stroke="#1a1a1a" stroke-width="0.04" transform="translate(358.0,177.0) rotate(-90)">Risk free probability</text>
<text x="342.90" y="12.50" font-size="15.6" text-anchor="start" fill="#1a1a1a" stroke="#1a1a1a" stroke-width="0.04" >b</text>
<rect x="610.8" y="181.8" width="68.0" height="52.2" rx="2.2" fill="#fff" fill-opacity="0.85" stroke="#d0d0d0" stroke-width="0.9"/>
<path d="M613.3 188.90H631.1" stroke="rgb(35,122,188)" stroke-width="1.3"/>
<text x="637.80" y="192.20" font-size="8.9" text-anchor="start" textLength="37.10" lengthAdjust="spacingAndGlyphs" fill="#1a1a1a" stroke="#1a1a1a" stroke-width="0.04" >Cluster 1</text>
<path d="M613.3 201.50H631.1" stroke="rgb(240,124,30)" stroke-width="1.3"/>
<text x="637.80" y="204.80" font-size="8.9" text-anchor="start" textLength="37.10" lengthAdjust="spacingAndGlyphs" fill="#1a1a1a" stroke="#1a1a1a" stroke-width="0.04" >Cluster 2</text>
<path d="M613.3 214.10H631.1" stroke="rgb(55,188,62)" stroke-width="1.3"/>
<text x="637.80" y="217.40" font-size="8.9" text-anchor="start" textLength="37.10" lengthAdjust="spacingAndGlyphs" fill="#1a1a1a" stroke="#1a1a1a" stroke-width="0.04" >Cluster 3</text>
<path d="M613.3 226.70H631.1" stroke="rgb(238,108,198)" stroke-width="1.3"/>
<text x="637.80" y="230.00" font-size="8.9" text-anchor="start" textLength="37.10" lengthAdjust="spacingAndGlyphs" fill="#1a1a1a" stroke="#1a1a1a" stroke-width="0.04" >Cluster 4</text>
</svg>
</body></html>
